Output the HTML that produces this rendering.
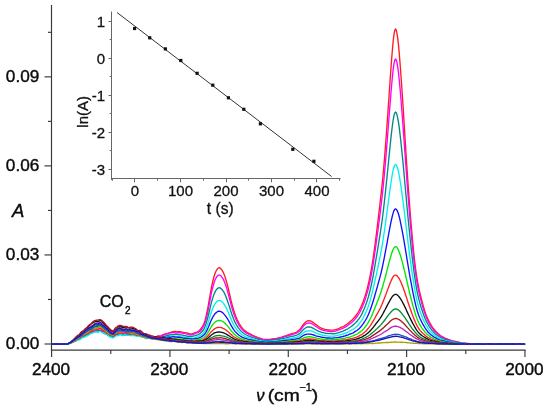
<!DOCTYPE html>
<html><head><meta charset="utf-8"><title>IR spectra</title>
<style>html,body{margin:0;padding:0;background:#fff}svg{display:block}</style></head>
<body><svg width="550" height="412" viewBox="0 0 550 412">
<rect width="550" height="412" fill="#fff"/>
<g fill="none" stroke-width="1.35" stroke-linejoin="round" stroke-linecap="round">
<path d="M52.00,344.02 L52.75,344.00 L53.50,344.11 L54.25,344.02 L55.00,344.05 L55.75,344.11 L56.50,344.10 L57.25,344.12 L58.00,343.91 L58.75,343.89 L59.50,343.87 L60.25,344.02 L61.00,344.05 L61.75,344.08 L62.50,344.08 L63.25,344.04 L64.00,344.01 L64.75,343.95 L65.50,343.98 L66.25,343.96 L67.00,343.87 L67.75,343.72 L68.50,343.60 L69.25,343.46 L70.00,343.19 L70.75,342.69 L71.50,342.35 L72.25,342.08 L73.00,341.82 L73.75,341.53 L74.50,341.15 L75.25,340.77 L76.00,340.15 L76.75,339.66 L77.50,339.25 L78.25,339.46 L79.00,338.88 L79.75,338.82 L80.50,338.19 L81.25,337.94 L82.00,337.20 L82.75,336.54 L83.50,336.41 L84.25,336.15 L85.00,335.67 L85.75,334.76 L86.50,334.23 L87.25,333.80 L88.00,333.50 L88.75,333.33 L89.50,333.21 L90.25,332.97 L91.00,332.47 L91.75,332.00 L92.50,331.97 L93.25,331.74 L94.00,331.88 L94.75,331.28 L95.50,331.06 L96.25,330.83 L97.00,330.93 L97.75,331.16 L98.50,330.39 L99.25,330.51 L100.00,330.34 L100.75,330.51 L101.50,330.24 L102.25,330.99 L103.00,331.71 L103.75,332.32 L104.50,332.47 L105.25,332.53 L106.00,333.33 L106.75,333.61 L107.50,334.62 L108.25,334.56 L109.00,335.11 L109.75,335.40 L110.50,336.43 L111.25,336.45 L112.00,336.55 L112.75,336.17 L113.50,336.00 L114.25,335.57 L115.00,335.39 L115.75,335.27 L116.50,335.03 L117.25,334.31 L118.00,334.21 L118.75,333.97 L119.50,334.22 L120.25,333.89 L121.00,333.76 L121.75,334.09 L122.50,334.58 L123.25,334.70 L124.00,334.12 L124.75,333.51 L125.50,333.38 L126.25,333.66 L127.00,333.85 L127.75,334.10 L128.50,333.99 L129.25,334.20 L130.00,334.07 L130.75,334.21 L131.50,333.87 L132.25,333.80 L133.00,333.28 L133.75,333.18 L134.50,333.07 L135.25,334.17 L136.00,334.70 L136.75,335.26 L137.50,334.86 L138.25,335.40 L139.00,335.18 L139.75,335.22 L140.50,335.18 L141.25,335.80 L142.00,336.37 L142.75,336.28 L143.50,336.11 L144.25,335.66 L145.00,335.83 L145.75,335.92 L146.50,336.40 L147.25,336.11 L148.00,336.19 L148.75,336.03 L149.50,336.59 L150.25,336.78 L151.00,337.16 L151.75,336.72 L152.50,336.56 L153.25,336.45 L154.00,336.72 L154.75,336.70 L155.50,336.69 L156.25,336.69 L157.00,336.60 L157.75,336.04 L158.50,335.83 L159.25,335.83 L160.00,336.15 L160.75,336.08 L161.50,335.68 L162.25,335.15 L163.00,334.69 L163.75,334.43 L164.50,334.22 L165.25,333.92 L166.00,333.87 L166.75,333.66 L167.50,333.40 L168.25,333.06 L169.00,332.81 L169.75,332.68 L170.50,332.42 L171.25,332.09 L172.00,331.88 L172.75,331.72 L173.50,331.64 L174.25,331.49 L175.00,331.30 L175.75,331.58 L176.50,331.60 L177.25,331.84 L178.00,331.71 L178.75,331.78 L179.50,331.72 L180.25,331.73 L181.00,331.88 L181.75,331.95 L182.50,332.18 L183.25,332.34 L184.00,332.56 L184.75,332.73 L185.50,332.72 L186.25,332.87 L187.00,332.84 L187.75,333.16 L188.50,333.42 L189.25,333.71 L190.00,333.80 L190.75,333.89 L191.50,333.87 L192.25,333.82 L193.00,333.50 L193.75,333.30 L194.50,332.92 L195.25,332.71 L196.00,332.41 L196.75,332.19 L197.50,331.88 L198.25,331.40 L199.00,330.78 L199.75,330.05 L200.50,329.22 L201.25,328.23 L202.00,327.12 L202.75,325.88 L203.50,324.50 L204.25,322.78 L205.00,320.47 L205.75,317.76 L206.50,314.48 L207.25,311.01 L208.00,307.04 L208.75,302.86 L209.50,298.42 L210.25,293.99 L211.00,289.82 L211.75,285.99 L212.50,282.58 L213.25,279.45 L214.00,276.65 L214.75,274.25 L215.50,272.25 L216.25,270.74 L217.00,269.47 L217.75,268.58 L218.50,267.87 L219.25,267.65 L220.00,267.92 L220.75,268.55 L221.50,269.48 L222.25,270.54 L223.00,271.84 L223.75,273.46 L224.50,275.41 L225.25,277.65 L226.00,280.07 L226.75,282.62 L227.50,285.50 L228.25,288.51 L229.00,291.66 L229.75,294.88 L230.50,298.14 L231.25,301.30 L232.00,304.27 L232.75,306.98 L233.50,309.60 L234.25,312.04 L235.00,314.35 L235.75,316.36 L236.50,318.04 L237.25,319.70 L238.00,321.26 L238.75,322.78 L239.50,324.11 L240.25,325.24 L241.00,326.40 L241.75,327.38 L242.50,328.37 L243.25,329.14 L244.00,329.94 L244.75,330.52 L245.50,331.13 L246.25,331.60 L247.00,332.21 L247.75,332.70 L248.50,333.13 L249.25,333.49 L250.00,333.85 L250.75,334.23 L251.50,334.63 L252.25,335.03 L253.00,335.40 L253.75,335.74 L254.50,336.07 L255.25,336.41 L256.00,336.70 L256.75,337.02 L257.50,337.39 L258.25,337.73 L259.00,337.95 L259.75,338.20 L260.50,338.46 L261.25,338.76 L262.00,338.90 L262.75,339.16 L263.50,339.30 L264.25,339.43 L265.00,339.48 L265.75,339.48 L266.50,339.52 L267.25,339.49 L268.00,339.50 L268.75,339.53 L269.50,339.46 L270.25,339.31 L271.00,339.19 L271.75,338.99 L272.50,338.95 L273.25,338.76 L274.00,338.72 L274.75,338.68 L275.50,338.62 L276.25,338.47 L277.00,338.28 L277.75,338.14 L278.50,337.96 L279.25,337.74 L280.00,337.56 L280.75,337.39 L281.50,337.11 L282.25,336.84 L283.00,336.55 L283.75,336.30 L284.50,336.05 L285.25,335.90 L286.00,335.76 L286.75,335.51 L287.50,335.16 L288.25,334.83 L289.00,334.52 L289.75,334.30 L290.50,334.02 L291.25,333.80 L292.00,333.53 L292.75,333.36 L293.50,333.16 L294.25,332.93 L295.00,332.67 L295.75,332.37 L296.50,332.00 L297.25,331.58 L298.00,330.97 L298.75,330.39 L299.50,329.69 L300.25,328.89 L301.00,327.89 L301.75,326.81 L302.50,325.70 L303.25,324.67 L304.00,323.77 L304.75,322.95 L305.50,322.27 L306.25,321.56 L307.00,321.20 L307.75,320.92 L308.50,320.74 L309.25,320.74 L310.00,320.83 L310.75,321.12 L311.50,321.45 L312.25,321.91 L313.00,322.44 L313.75,322.93 L314.50,323.52 L315.25,324.09 L316.00,324.69 L316.75,325.13 L317.50,325.70 L318.25,326.27 L319.00,326.82 L319.75,327.28 L320.50,327.65 L321.25,328.04 L322.00,328.30 L322.75,328.61 L323.50,328.87 L324.25,329.25 L325.00,329.47 L325.75,329.58 L326.50,329.66 L327.25,329.78 L328.00,329.99 L328.75,330.01 L329.50,330.04 L330.25,330.09 L331.00,330.13 L331.75,330.16 L332.50,330.10 L333.25,330.14 L334.00,330.02 L334.75,329.90 L335.50,329.69 L336.25,329.52 L337.00,329.26 L337.75,328.92 L338.50,328.60 L339.25,328.24 L340.00,327.94 L340.75,327.56 L341.50,327.23 L342.25,326.91 L343.00,326.67 L343.75,326.29 L344.50,325.84 L345.25,325.30 L346.00,324.80 L346.75,324.32 L347.50,323.78 L348.25,323.25 L349.00,322.55 L349.75,321.88 L350.50,321.20 L351.25,320.63 L352.00,319.95 L352.75,319.15 L353.50,318.33 L354.25,317.57 L355.00,316.73 L355.75,315.79 L356.50,314.73 L357.25,313.68 L358.00,312.51 L358.75,311.24 L359.50,309.84 L360.25,308.42 L361.00,306.80 L361.75,305.14 L362.50,303.23 L363.25,301.43 L364.00,299.32 L364.75,297.10 L365.50,294.64 L366.25,292.10 L367.00,289.40 L367.75,286.46 L368.50,283.39 L369.25,280.07 L370.00,276.44 L370.75,272.50 L371.50,268.36 L372.25,263.97 L373.00,259.21 L373.75,253.97 L374.50,248.48 L375.25,242.81 L376.00,236.99 L376.75,231.03 L377.50,224.90 L378.25,218.64 L379.00,212.19 L379.75,205.73 L380.50,199.16 L381.25,192.56 L382.00,185.50 L382.75,178.13 L383.50,170.08 L384.25,161.44 L385.00,152.16 L385.75,142.41 L386.50,132.34 L387.25,121.87 L388.00,111.14 L388.75,100.18 L389.50,89.11 L390.25,78.23 L391.00,67.72 L391.75,57.80 L392.50,48.54 L393.25,40.54 L394.00,34.28 L394.75,30.35 L395.50,28.96 L396.25,30.06 L397.00,33.35 L397.75,38.41 L398.50,45.16 L399.25,53.37 L400.00,62.72 L400.75,72.80 L401.50,83.25 L402.25,94.11 L403.00,105.52 L403.75,117.40 L404.50,129.64 L405.25,141.61 L406.00,153.34 L406.75,164.75 L407.50,175.91 L408.25,186.78 L409.00,197.12 L409.75,207.16 L410.50,216.80 L411.25,225.93 L412.00,234.51 L412.75,242.66 L413.50,250.49 L414.25,257.78 L415.00,264.32 L415.75,270.12 L416.50,275.28 L417.25,279.90 L418.00,284.07 L418.75,287.86 L419.50,291.33 L420.25,294.48 L421.00,297.50 L421.75,300.41 L422.50,303.25 L423.25,305.96 L424.00,308.51 L424.75,310.97 L425.50,313.16 L426.25,315.19 L427.00,316.93 L427.75,318.70 L428.50,320.28 L429.25,321.83 L430.00,323.14 L430.75,324.43 L431.50,325.64 L432.25,326.80 L433.00,327.86 L433.75,328.82 L434.50,329.77 L435.25,330.64 L436.00,331.41 L436.75,332.22 L437.50,332.96 L438.25,333.72 L439.00,334.30 L439.75,334.92 L440.50,335.49 L441.25,336.02 L442.00,336.43 L442.75,336.84 L443.50,337.27 L444.25,337.71 L445.00,338.05 L445.75,338.32 L446.50,338.60 L447.25,338.92 L448.00,339.26 L448.75,339.59 L449.50,339.88 L450.25,340.16 L451.00,340.35 L451.75,340.56 L452.50,340.81 L453.25,340.98 L454.00,341.10 L454.75,341.25 L455.50,341.45 L456.25,341.67 L457.00,341.79 L457.75,342.02 L458.50,342.12 L459.25,342.32 L460.00,342.37 L460.75,342.58 L461.50,342.72 L462.25,342.92 L463.00,343.02 L463.75,343.16 L464.50,343.27 L465.25,343.41 L466.00,343.52 L466.75,343.52 L467.50,343.54 L468.25,343.53 L469.00,343.58 L469.75,343.69 L470.50,343.74 L471.25,343.76 L472.00,343.72 L472.75,343.83 L473.50,344.05 L474.25,344.15 L475.00,344.03 L475.75,343.92 L476.50,343.89 L477.25,343.91 L478.00,343.93 L478.75,343.92 L479.50,343.92 L480.25,343.86 L481.00,343.86 L481.75,343.92 L482.50,343.92 L483.25,343.96 L484.00,343.88 L484.75,343.80 L485.50,343.82 L486.25,343.96 L487.00,344.08 L487.75,344.04 L488.50,343.91 L489.25,343.86 L490.00,343.90 L490.75,343.98 L491.50,343.97 L492.25,343.99 L493.00,343.91 L493.75,343.98 L494.50,343.90 L495.25,343.92 L496.00,343.88 L496.75,343.88 L497.50,343.95 L498.25,343.97 L499.00,344.01 L499.75,343.96 L500.50,343.92 L501.25,343.93 L502.00,343.97 L502.75,344.05 L503.50,344.06 L504.25,344.00 L505.00,344.00 L505.75,343.95 L506.50,343.96 L507.25,343.94 L508.00,344.04 L508.75,344.05 L509.50,344.01 L510.25,344.03 L511.00,343.99 L511.75,343.95 L512.50,343.87 L513.25,343.90 L514.00,343.87 L514.75,343.83 L515.50,343.89 L516.25,343.99 L517.00,344.04 L517.75,344.01 L518.50,344.11 L519.25,344.07 L520.00,344.09 L520.75,343.99 L521.50,344.02 L522.25,343.96 L523.00,343.98 L523.75,344.01 L524.50,344.04" stroke="#ff1a22"/>
<path d="M52.00,343.92 L52.75,343.94 L53.50,343.90 L54.25,343.95 L55.00,343.96 L55.75,343.95 L56.50,343.99 L57.25,343.93 L58.00,344.01 L58.75,343.96 L59.50,344.05 L60.25,344.06 L61.00,344.04 L61.75,343.98 L62.50,343.95 L63.25,344.01 L64.00,344.00 L64.75,344.06 L65.50,344.08 L66.25,344.10 L67.00,344.01 L67.75,343.88 L68.50,343.73 L69.25,343.47 L70.00,343.15 L70.75,342.69 L71.50,342.23 L72.25,341.72 L73.00,341.49 L73.75,341.25 L74.50,341.17 L75.25,340.82 L76.00,340.64 L76.75,340.10 L77.50,339.50 L78.25,338.38 L79.00,337.61 L79.75,337.48 L80.50,337.29 L81.25,337.23 L82.00,336.45 L82.75,336.14 L83.50,335.37 L84.25,334.57 L85.00,333.93 L85.75,333.21 L86.50,333.29 L87.25,333.14 L88.00,332.96 L88.75,332.25 L89.50,331.92 L90.25,331.81 L91.00,332.10 L91.75,331.67 L92.50,331.17 L93.25,330.57 L94.00,330.29 L94.75,330.44 L95.50,330.17 L96.25,329.84 L97.00,329.39 L97.75,329.34 L98.50,329.48 L99.25,328.89 L100.00,328.79 L100.75,328.73 L101.50,329.36 L102.25,330.32 L103.00,330.81 L103.75,331.46 L104.50,331.44 L105.25,331.67 L106.00,332.07 L106.75,333.04 L107.50,333.88 L108.25,334.45 L109.00,334.54 L109.75,335.21 L110.50,336.00 L111.25,336.32 L112.00,336.34 L112.75,336.14 L113.50,336.30 L114.25,335.46 L115.00,335.55 L115.75,334.71 L116.50,334.14 L117.25,333.25 L118.00,332.87 L118.75,333.34 L119.50,332.92 L120.25,333.26 L121.00,333.09 L121.75,333.49 L122.50,333.55 L123.25,333.42 L124.00,333.67 L124.75,333.50 L125.50,333.60 L126.25,333.36 L127.00,333.22 L127.75,333.21 L128.50,333.32 L129.25,333.53 L130.00,333.78 L130.75,333.74 L131.50,333.41 L132.25,333.30 L133.00,333.18 L133.75,333.48 L134.50,333.78 L135.25,333.87 L136.00,334.23 L136.75,334.20 L137.50,334.22 L138.25,334.40 L139.00,334.58 L139.75,335.39 L140.50,335.45 L141.25,335.95 L142.00,335.91 L142.75,336.13 L143.50,335.98 L144.25,335.74 L145.00,335.71 L145.75,335.75 L146.50,336.20 L147.25,336.41 L148.00,336.77 L148.75,337.15 L149.50,337.14 L150.25,336.75 L151.00,336.39 L151.75,336.52 L152.50,336.52 L153.25,336.66 L154.00,336.65 L154.75,337.06 L155.50,337.10 L156.25,336.98 L157.00,336.44 L157.75,336.25 L158.50,336.27 L159.25,336.52 L160.00,336.37 L160.75,336.27 L161.50,335.96 L162.25,335.61 L163.00,335.11 L163.75,334.80 L164.50,334.79 L165.25,334.79 L166.00,334.47 L166.75,333.96 L167.50,333.72 L168.25,333.62 L169.00,333.53 L169.75,333.11 L170.50,332.93 L171.25,332.82 L172.00,332.71 L172.75,332.61 L173.50,332.49 L174.25,332.65 L175.00,332.94 L175.75,333.01 L176.50,333.02 L177.25,332.78 L178.00,332.71 L178.75,332.62 L179.50,332.75 L180.25,332.89 L181.00,332.91 L181.75,333.04 L182.50,333.09 L183.25,333.27 L184.00,333.34 L184.75,333.45 L185.50,333.70 L186.25,333.81 L187.00,334.13 L187.75,334.28 L188.50,334.57 L189.25,334.62 L190.00,334.76 L190.75,334.76 L191.50,334.86 L192.25,334.66 L193.00,334.39 L193.75,334.08 L194.50,333.76 L195.25,333.54 L196.00,333.14 L196.75,332.96 L197.50,332.78 L198.25,332.44 L199.00,331.98 L199.75,331.36 L200.50,330.74 L201.25,329.95 L202.00,328.91 L202.75,327.79 L203.50,326.31 L204.25,324.63 L205.00,322.60 L205.75,320.24 L206.50,317.42 L207.25,314.26 L208.00,310.72 L208.75,306.89 L209.50,302.79 L210.25,298.77 L211.00,294.96 L211.75,291.43 L212.50,288.25 L213.25,285.46 L214.00,282.95 L214.75,280.84 L215.50,279.01 L216.25,277.65 L217.00,276.47 L217.75,275.69 L218.50,275.17 L219.25,275.05 L220.00,275.20 L220.75,275.75 L221.50,276.56 L222.25,277.57 L223.00,278.70 L223.75,280.16 L224.50,281.90 L225.25,283.92 L226.00,286.03 L226.75,288.39 L227.50,291.00 L228.25,293.90 L229.00,296.79 L229.75,299.60 L230.50,302.41 L231.25,305.21 L232.00,307.98 L232.75,310.59 L233.50,312.97 L234.25,315.14 L235.00,317.06 L235.75,318.95 L236.50,320.59 L237.25,322.16 L238.00,323.49 L238.75,324.83 L239.50,326.04 L240.25,327.20 L241.00,328.13 L241.75,329.02 L242.50,329.85 L243.25,330.68 L244.00,331.38 L244.75,331.87 L245.50,332.42 L246.25,332.89 L247.00,333.37 L247.75,333.68 L248.50,334.06 L249.25,334.45 L250.00,334.85 L250.75,335.17 L251.50,335.55 L252.25,335.85 L253.00,336.20 L253.75,336.44 L254.50,336.85 L255.25,337.12 L256.00,337.52 L256.75,337.84 L257.50,338.15 L258.25,338.42 L259.00,338.60 L259.75,338.90 L260.50,339.01 L261.25,339.22 L262.00,339.40 L262.75,339.62 L263.50,339.73 L264.25,339.84 L265.00,339.91 L265.75,339.90 L266.50,339.85 L267.25,339.85 L268.00,339.92 L268.75,339.88 L269.50,339.88 L270.25,339.90 L271.00,339.86 L271.75,339.75 L272.50,339.46 L273.25,339.32 L274.00,339.21 L274.75,339.22 L275.50,339.09 L276.25,338.96 L277.00,338.80 L277.75,338.67 L278.50,338.47 L279.25,338.27 L280.00,338.08 L280.75,337.84 L281.50,337.58 L282.25,337.45 L283.00,337.20 L283.75,337.06 L284.50,336.73 L285.25,336.65 L286.00,336.42 L286.75,336.23 L287.50,335.95 L288.25,335.68 L289.00,335.42 L289.75,335.21 L290.50,335.00 L291.25,334.75 L292.00,334.45 L292.75,334.24 L293.50,334.07 L294.25,333.89 L295.00,333.69 L295.75,333.47 L296.50,333.11 L297.25,332.74 L298.00,332.28 L298.75,331.86 L299.50,331.13 L300.25,330.26 L301.00,329.32 L301.75,328.38 L302.50,327.48 L303.25,326.43 L304.00,325.51 L304.75,324.76 L305.50,324.18 L306.25,323.72 L307.00,323.29 L307.75,323.05 L308.50,322.93 L309.25,322.96 L310.00,323.07 L310.75,323.31 L311.50,323.67 L312.25,324.01 L313.00,324.46 L313.75,324.91 L314.50,325.53 L315.25,326.03 L316.00,326.50 L316.75,326.97 L317.50,327.45 L318.25,328.01 L319.00,328.47 L319.75,328.94 L320.50,329.26 L321.25,329.56 L322.00,329.91 L322.75,330.04 L323.50,330.32 L324.25,330.43 L325.00,330.71 L325.75,330.80 L326.50,330.94 L327.25,331.21 L328.00,331.37 L328.75,331.42 L329.50,331.40 L330.25,331.44 L331.00,331.61 L331.75,331.55 L332.50,331.51 L333.25,331.43 L334.00,331.43 L334.75,331.33 L335.50,331.16 L336.25,330.94 L337.00,330.66 L337.75,330.31 L338.50,329.97 L339.25,329.70 L340.00,329.46 L340.75,329.20 L341.50,328.92 L342.25,328.63 L343.00,328.26 L343.75,327.89 L344.50,327.45 L345.25,327.05 L346.00,326.63 L346.75,326.12 L347.50,325.61 L348.25,325.02 L349.00,324.45 L349.75,323.91 L350.50,323.38 L351.25,322.79 L352.00,322.15 L352.75,321.37 L353.50,320.65 L354.25,319.91 L355.00,319.16 L355.75,318.26 L356.50,317.27 L357.25,316.24 L358.00,315.17 L358.75,314.01 L359.50,312.72 L360.25,311.31 L361.00,309.82 L361.75,308.23 L362.50,306.60 L363.25,304.83 L364.00,302.94 L364.75,300.79 L365.50,298.42 L366.25,295.92 L367.00,293.39 L367.75,290.78 L368.50,287.85 L369.25,284.63 L370.00,281.23 L370.75,277.59 L371.50,273.72 L372.25,269.44 L373.00,264.94 L373.75,260.04 L374.50,254.98 L375.25,249.80 L376.00,244.52 L376.75,239.13 L377.50,233.50 L378.25,227.85 L379.00,222.11 L379.75,216.29 L380.50,210.30 L381.25,204.11 L382.00,197.69 L382.75,190.95 L383.50,183.67 L384.25,175.86 L385.00,167.43 L385.75,158.73 L386.50,149.65 L387.25,140.34 L388.00,130.76 L388.75,121.05 L389.50,111.27 L390.25,101.67 L391.00,92.43 L391.75,83.73 L392.50,75.75 L393.25,68.91 L394.00,63.64 L394.75,60.19 L395.50,58.98 L396.25,59.93 L397.00,62.77 L397.75,67.17 L398.50,72.92 L399.25,79.98 L400.00,88.02 L400.75,96.79 L401.50,106.02 L402.25,115.59 L403.00,125.63 L403.75,136.08 L404.50,146.69 L405.25,157.27 L406.00,167.79 L406.75,178.15 L407.50,188.20 L408.25,197.92 L409.00,207.25 L409.75,216.30 L410.50,225.02 L411.25,233.50 L412.00,241.42 L412.75,248.85 L413.50,255.96 L414.25,262.69 L415.00,268.98 L415.75,274.51 L416.50,279.48 L417.25,283.95 L418.00,288.00 L418.75,291.60 L419.50,294.83 L420.25,297.79 L421.00,300.61 L421.75,303.32 L422.50,306.00 L423.25,308.60 L424.00,311.02 L424.75,313.22 L425.50,315.23 L426.25,317.20 L427.00,318.99 L427.75,320.68 L428.50,322.13 L429.25,323.56 L430.00,324.80 L430.75,326.00 L431.50,327.06 L432.25,328.04 L433.00,329.06 L433.75,330.07 L434.50,330.96 L435.25,331.69 L436.00,332.33 L436.75,333.09 L437.50,333.81 L438.25,334.49 L439.00,335.14 L439.75,335.72 L440.50,336.21 L441.25,336.65 L442.00,336.99 L442.75,337.48 L443.50,337.85 L444.25,338.24 L445.00,338.54 L445.75,338.88 L446.50,339.28 L447.25,339.57 L448.00,339.74 L448.75,339.92 L449.50,340.12 L450.25,340.43 L451.00,340.63 L451.75,340.85 L452.50,341.06 L453.25,341.30 L454.00,341.47 L454.75,341.55 L455.50,341.69 L456.25,341.83 L457.00,341.95 L457.75,342.12 L458.50,342.33 L459.25,342.51 L460.00,342.59 L460.75,342.68 L461.50,342.85 L462.25,343.01 L463.00,343.10 L463.75,343.23 L464.50,343.28 L465.25,343.43 L466.00,343.52 L466.75,343.60 L467.50,343.63 L468.25,343.62 L469.00,343.67 L469.75,343.72 L470.50,343.78 L471.25,343.84 L472.00,343.91 L472.75,343.99 L473.50,344.02 L474.25,343.99 L475.00,343.95 L475.75,343.89 L476.50,343.85 L477.25,343.78 L478.00,343.77 L478.75,343.81 L479.50,343.81 L480.25,343.82 L481.00,343.83 L481.75,343.89 L482.50,343.90 L483.25,343.87 L484.00,343.84 L484.75,343.87 L485.50,343.86 L486.25,343.91 L487.00,343.92 L487.75,343.96 L488.50,343.92 L489.25,344.01 L490.00,343.98 L490.75,343.96 L491.50,343.87 L492.25,343.89 L493.00,343.92 L493.75,343.98 L494.50,344.01 L495.25,344.05 L496.00,344.02 L496.75,343.95 L497.50,343.98 L498.25,343.93 L499.00,344.03 L499.75,344.03 L500.50,344.07 L501.25,343.97 L502.00,343.96 L502.75,344.04 L503.50,344.08 L504.25,344.05 L505.00,344.01 L505.75,344.07 L506.50,344.10 L507.25,344.05 L508.00,343.98 L508.75,344.02 L509.50,343.93 L510.25,343.96 L511.00,343.91 L511.75,343.98 L512.50,343.97 L513.25,343.87 L514.00,343.85 L514.75,343.87 L515.50,343.98 L516.25,344.04 L517.00,344.04 L517.75,344.00 L518.50,344.01 L519.25,343.93 L520.00,343.96 L520.75,343.94 L521.50,343.97 L522.25,344.04 L523.00,344.07 L523.75,344.09 L524.50,344.01" stroke="#ff00ff"/>
<path d="M52.00,344.00 L52.75,343.98 L53.50,344.00 L54.25,344.01 L55.00,344.08 L55.75,344.13 L56.50,344.07 L57.25,344.06 L58.00,344.01 L58.75,344.01 L59.50,343.93 L60.25,343.92 L61.00,344.00 L61.75,344.04 L62.50,344.06 L63.25,344.01 L64.00,344.01 L64.75,343.96 L65.50,343.95 L66.25,343.93 L67.00,343.79 L67.75,343.64 L68.50,343.61 L69.25,343.45 L70.00,343.35 L70.75,343.06 L71.50,342.78 L72.25,342.46 L73.00,342.05 L73.75,341.67 L74.50,341.31 L75.25,341.02 L76.00,340.75 L76.75,340.08 L77.50,339.43 L78.25,339.36 L79.00,339.35 L79.75,339.13 L80.50,338.04 L81.25,337.35 L82.00,336.77 L82.75,336.54 L83.50,336.41 L84.25,336.12 L85.00,335.89 L85.75,335.67 L86.50,335.41 L87.25,335.05 L88.00,334.73 L88.75,334.22 L89.50,333.85 L90.25,333.09 L91.00,333.11 L91.75,332.94 L92.50,332.56 L93.25,331.95 L94.00,331.83 L94.75,331.81 L95.50,331.53 L96.25,331.34 L97.00,331.28 L97.75,330.97 L98.50,330.71 L99.25,330.52 L100.00,331.11 L100.75,331.39 L101.50,331.42 L102.25,331.70 L103.00,332.25 L103.75,333.15 L104.50,333.56 L105.25,333.61 L106.00,334.03 L106.75,334.33 L107.50,335.02 L108.25,335.23 L109.00,335.71 L109.75,335.89 L110.50,336.40 L111.25,336.90 L112.00,337.23 L112.75,337.53 L113.50,337.19 L114.25,336.72 L115.00,335.80 L115.75,335.36 L116.50,335.07 L117.25,334.97 L118.00,334.90 L118.75,334.73 L119.50,334.58 L120.25,334.40 L121.00,334.68 L121.75,334.96 L122.50,335.55 L123.25,335.17 L124.00,335.15 L124.75,334.59 L125.50,334.91 L126.25,334.79 L127.00,334.84 L127.75,334.57 L128.50,334.95 L129.25,334.87 L130.00,335.07 L130.75,334.91 L131.50,334.94 L132.25,334.93 L133.00,334.87 L133.75,335.22 L134.50,335.27 L135.25,335.36 L136.00,335.39 L136.75,335.77 L137.50,336.02 L138.25,336.04 L139.00,335.73 L139.75,335.79 L140.50,335.74 L141.25,336.19 L142.00,336.59 L142.75,336.94 L143.50,337.31 L144.25,337.14 L145.00,337.18 L145.75,337.17 L146.50,337.37 L147.25,337.20 L148.00,337.19 L148.75,337.20 L149.50,337.57 L150.25,337.68 L151.00,337.77 L151.75,337.86 L152.50,338.24 L153.25,337.99 L154.00,338.20 L154.75,337.97 L155.50,338.07 L156.25,337.87 L157.00,337.85 L157.75,337.83 L158.50,337.92 L159.25,337.75 L160.00,337.86 L160.75,337.67 L161.50,337.35 L162.25,336.96 L163.00,336.62 L163.75,336.36 L164.50,336.18 L165.25,336.10 L166.00,336.05 L166.75,335.68 L167.50,335.42 L168.25,335.19 L169.00,335.21 L169.75,335.03 L170.50,334.88 L171.25,334.74 L172.00,334.67 L172.75,334.70 L173.50,334.73 L174.25,334.64 L175.00,334.50 L175.75,334.35 L176.50,334.42 L177.25,334.61 L178.00,334.69 L178.75,334.71 L179.50,334.83 L180.25,334.88 L181.00,334.96 L181.75,334.80 L182.50,335.05 L183.25,335.31 L184.00,335.49 L184.75,335.66 L185.50,335.74 L186.25,336.00 L187.00,336.07 L187.75,336.27 L188.50,336.33 L189.25,336.32 L190.00,336.27 L190.75,336.30 L191.50,336.39 L192.25,336.26 L193.00,336.13 L193.75,335.86 L194.50,335.81 L195.25,335.58 L196.00,335.47 L196.75,335.14 L197.50,334.90 L198.25,334.60 L199.00,334.22 L199.75,333.69 L200.50,333.02 L201.25,332.30 L202.00,331.59 L202.75,330.72 L203.50,329.72 L204.25,328.34 L205.00,326.58 L205.75,324.47 L206.50,322.14 L207.25,319.66 L208.00,316.84 L208.75,313.75 L209.50,310.49 L210.25,307.29 L211.00,304.21 L211.75,301.37 L212.50,298.71 L213.25,296.41 L214.00,294.35 L214.75,292.65 L215.50,291.11 L216.25,289.94 L217.00,288.97 L217.75,288.34 L218.50,287.82 L219.25,287.70 L220.00,287.91 L220.75,288.39 L221.50,289.05 L222.25,289.80 L223.00,290.80 L223.75,291.90 L224.50,293.36 L225.25,294.96 L226.00,296.86 L226.75,298.79 L227.50,300.90 L228.25,303.11 L229.00,305.41 L229.75,307.80 L230.50,310.21 L231.25,312.51 L232.00,314.70 L232.75,316.76 L233.50,318.69 L234.25,320.44 L235.00,322.14 L235.75,323.67 L236.50,325.01 L237.25,326.11 L238.00,327.27 L238.75,328.31 L239.50,329.35 L240.25,330.24 L241.00,331.12 L241.75,331.83 L242.50,332.46 L243.25,333.03 L244.00,333.56 L244.75,334.01 L245.50,334.50 L246.25,334.90 L247.00,335.25 L247.75,335.56 L248.50,335.85 L249.25,336.25 L250.00,336.58 L250.75,336.92 L251.50,337.18 L252.25,337.46 L253.00,337.71 L253.75,337.94 L254.50,338.12 L255.25,338.36 L256.00,338.60 L256.75,338.86 L257.50,339.14 L258.25,339.46 L259.00,339.65 L259.75,339.74 L260.50,339.85 L261.25,340.05 L262.00,340.29 L262.75,340.48 L263.50,340.60 L264.25,340.72 L265.00,340.70 L265.75,340.77 L266.50,340.71 L267.25,340.66 L268.00,340.53 L268.75,340.51 L269.50,340.49 L270.25,340.54 L271.00,340.48 L271.75,340.43 L272.50,340.26 L273.25,340.17 L274.00,340.08 L274.75,340.04 L275.50,339.98 L276.25,339.90 L277.00,339.73 L277.75,339.56 L278.50,339.41 L279.25,339.29 L280.00,339.17 L280.75,338.99 L281.50,338.80 L282.25,338.55 L283.00,338.38 L283.75,338.29 L284.50,338.20 L285.25,338.11 L286.00,337.95 L286.75,337.77 L287.50,337.50 L288.25,337.21 L289.00,337.00 L289.75,336.80 L290.50,336.70 L291.25,336.49 L292.00,336.38 L292.75,336.21 L293.50,336.03 L294.25,335.81 L295.00,335.57 L295.75,335.39 L296.50,335.19 L297.25,334.90 L298.00,334.57 L298.75,334.11 L299.50,333.62 L300.25,332.93 L301.00,332.17 L301.75,331.27 L302.50,330.43 L303.25,329.65 L304.00,329.00 L304.75,328.50 L305.50,328.01 L306.25,327.54 L307.00,327.09 L307.75,326.97 L308.50,326.93 L309.25,326.99 L310.00,327.04 L310.75,327.21 L311.50,327.48 L312.25,327.78 L313.00,328.15 L313.75,328.60 L314.50,329.03 L315.25,329.50 L316.00,329.83 L316.75,330.28 L317.50,330.64 L318.25,331.02 L319.00,331.32 L319.75,331.61 L320.50,331.98 L321.25,332.23 L322.00,332.46 L322.75,332.55 L323.50,332.72 L324.25,332.87 L325.00,333.11 L325.75,333.27 L326.50,333.38 L327.25,333.44 L328.00,333.46 L328.75,333.55 L329.50,333.54 L330.25,333.54 L331.00,333.63 L331.75,333.67 L332.50,333.75 L333.25,333.69 L334.00,333.71 L334.75,333.60 L335.50,333.51 L336.25,333.34 L337.00,333.18 L337.75,332.90 L338.50,332.60 L339.25,332.31 L340.00,332.08 L340.75,331.90 L341.50,331.74 L342.25,331.47 L343.00,331.16 L343.75,330.77 L344.50,330.41 L345.25,330.07 L346.00,329.71 L346.75,329.45 L347.50,328.99 L348.25,328.52 L349.00,327.98 L349.75,327.49 L350.50,327.02 L351.25,326.49 L352.00,325.89 L352.75,325.26 L353.50,324.62 L354.25,324.04 L355.00,323.37 L355.75,322.67 L356.50,321.81 L357.25,320.95 L358.00,319.96 L358.75,319.01 L359.50,317.89 L360.25,316.82 L361.00,315.61 L361.75,314.17 L362.50,312.54 L363.25,310.88 L364.00,309.23 L364.75,307.43 L365.50,305.52 L366.25,303.38 L367.00,301.23 L367.75,298.84 L368.50,296.46 L369.25,293.61 L370.00,290.64 L370.75,287.33 L371.50,284.06 L372.25,280.40 L373.00,276.54 L373.75,272.36 L374.50,268.05 L375.25,263.65 L376.00,259.22 L376.75,254.85 L377.50,250.34 L378.25,245.71 L379.00,241.00 L379.75,236.30 L380.50,231.52 L381.25,226.56 L382.00,221.23 L382.75,215.47 L383.50,209.37 L384.25,202.90 L385.00,196.13 L385.75,189.11 L386.50,181.89 L387.25,174.60 L388.00,167.03 L388.75,159.46 L389.50,151.86 L390.25,144.48 L391.00,137.36 L391.75,130.68 L392.50,124.71 L393.25,119.49 L394.00,115.52 L394.75,112.93 L395.50,112.08 L396.25,112.75 L397.00,114.84 L397.75,118.10 L398.50,122.46 L399.25,127.70 L400.00,133.83 L400.75,140.49 L401.50,147.58 L402.25,154.94 L403.00,162.58 L403.75,170.58 L404.50,178.88 L405.25,187.30 L406.00,195.65 L406.75,203.81 L407.50,211.86 L408.25,219.66 L409.00,227.32 L409.75,234.70 L410.50,241.97 L411.25,248.88 L412.00,255.56 L412.75,261.88 L413.50,267.94 L414.25,273.60 L415.00,278.94 L415.75,283.92 L416.50,288.40 L417.25,292.31 L418.00,295.71 L418.75,298.93 L419.50,301.90 L420.25,304.57 L421.00,306.99 L421.75,309.29 L422.50,311.55 L423.25,313.72 L424.00,315.75 L424.75,317.66 L425.50,319.47 L426.25,321.13 L427.00,322.63 L427.75,323.98 L428.50,325.27 L429.25,326.56 L430.00,327.64 L430.75,328.75 L431.50,329.62 L432.25,330.59 L433.00,331.42 L433.75,332.31 L434.50,333.05 L435.25,333.75 L436.00,334.41 L436.75,335.03 L437.50,335.58 L438.25,336.05 L439.00,336.55 L439.75,336.98 L440.50,337.48 L441.25,337.91 L442.00,338.38 L442.75,338.66 L443.50,339.00 L444.25,339.31 L445.00,339.56 L445.75,339.69 L446.50,339.84 L447.25,340.19 L448.00,340.48 L448.75,340.72 L449.50,340.85 L450.25,341.11 L451.00,341.34 L451.75,341.58 L452.50,341.73 L453.25,341.78 L454.00,341.83 L454.75,341.97 L455.50,342.25 L456.25,342.38 L457.00,342.47 L457.75,342.50 L458.50,342.66 L459.25,342.76 L460.00,342.88 L460.75,343.01 L461.50,343.19 L462.25,343.35 L463.00,343.44 L463.75,343.46 L464.50,343.49 L465.25,343.53 L466.00,343.56 L466.75,343.64 L467.50,343.62 L468.25,343.61 L469.00,343.59 L469.75,343.68 L470.50,343.74 L471.25,343.76 L472.00,343.79 L472.75,343.86 L473.50,343.94 L474.25,344.00 L475.00,343.98 L475.75,343.90 L476.50,343.90 L477.25,343.93 L478.00,343.97 L478.75,343.95 L479.50,343.98 L480.25,344.01 L481.00,344.07 L481.75,344.05 L482.50,344.05 L483.25,343.88 L484.00,343.85 L484.75,343.85 L485.50,343.94 L486.25,343.91 L487.00,343.83 L487.75,343.83 L488.50,343.90 L489.25,344.02 L490.00,344.05 L490.75,344.05 L491.50,344.02 L492.25,343.94 L493.00,344.01 L493.75,343.99 L494.50,344.04 L495.25,343.95 L496.00,343.88 L496.75,343.95 L497.50,344.00 L498.25,344.07 L499.00,344.01 L499.75,343.99 L500.50,344.03 L501.25,343.99 L502.00,344.02 L502.75,344.01 L503.50,344.00 L504.25,343.89 L505.00,343.83 L505.75,343.92 L506.50,344.03 L507.25,344.10 L508.00,344.11 L508.75,344.09 L509.50,344.01 L510.25,343.95 L511.00,343.97 L511.75,344.05 L512.50,344.11 L513.25,344.03 L514.00,344.08 L514.75,344.02 L515.50,344.13 L516.25,344.09 L517.00,344.16 L517.75,344.07 L518.50,344.03 L519.25,343.86 L520.00,343.94 L520.75,343.98 L521.50,344.06 L522.25,344.00 L523.00,343.97 L523.75,344.07 L524.50,344.09" stroke="#008888"/>
<path d="M52.00,343.92 L52.75,343.91 L53.50,343.99 L54.25,343.99 L55.00,344.03 L55.75,344.00 L56.50,344.03 L57.25,343.96 L58.00,343.98 L58.75,343.99 L59.50,343.99 L60.25,343.97 L61.00,343.95 L61.75,344.01 L62.50,343.98 L63.25,344.00 L64.00,343.98 L64.75,343.93 L65.50,343.89 L66.25,343.94 L67.00,344.01 L67.75,343.93 L68.50,343.83 L69.25,343.67 L70.00,343.51 L70.75,343.25 L71.50,342.79 L72.25,342.58 L73.00,342.02 L73.75,341.87 L74.50,341.34 L75.25,341.10 L76.00,340.59 L76.75,340.12 L77.50,340.01 L78.25,340.11 L79.00,339.96 L79.75,339.77 L80.50,339.07 L81.25,338.47 L82.00,337.81 L82.75,337.45 L83.50,337.52 L84.25,337.18 L85.00,336.74 L85.75,336.48 L86.50,336.01 L87.25,335.86 L88.00,335.17 L88.75,335.00 L89.50,334.26 L90.25,333.81 L91.00,333.42 L91.75,333.35 L92.50,333.16 L93.25,332.60 L94.00,332.06 L94.75,331.86 L95.50,331.93 L96.25,331.78 L97.00,332.12 L97.75,332.00 L98.50,332.27 L99.25,331.37 L100.00,331.44 L100.75,331.42 L101.50,332.27 L102.25,332.60 L103.00,332.83 L103.75,332.65 L104.50,333.33 L105.25,334.02 L106.00,334.00 L106.75,333.97 L107.50,334.29 L108.25,335.41 L109.00,336.58 L109.75,336.63 L110.50,337.04 L111.25,337.12 L112.00,337.51 L112.75,337.79 L113.50,337.45 L114.25,337.13 L115.00,336.49 L115.75,335.91 L116.50,335.61 L117.25,335.70 L118.00,335.70 L118.75,335.33 L119.50,334.69 L120.25,334.33 L121.00,334.55 L121.75,335.03 L122.50,335.24 L123.25,335.52 L124.00,335.02 L124.75,335.04 L125.50,334.69 L126.25,335.04 L127.00,335.30 L127.75,335.15 L128.50,335.35 L129.25,335.22 L130.00,335.57 L130.75,335.65 L131.50,335.45 L132.25,335.64 L133.00,335.38 L133.75,335.49 L134.50,335.72 L135.25,335.79 L136.00,335.91 L136.75,335.99 L137.50,336.27 L138.25,336.37 L139.00,335.91 L139.75,336.32 L140.50,336.40 L141.25,336.99 L142.00,336.87 L142.75,337.29 L143.50,337.46 L144.25,337.63 L145.00,337.96 L145.75,338.50 L146.50,338.69 L147.25,338.64 L148.00,338.30 L148.75,338.26 L149.50,338.29 L150.25,338.16 L151.00,338.33 L151.75,338.31 L152.50,338.40 L153.25,338.31 L154.00,338.35 L154.75,338.47 L155.50,338.66 L156.25,338.73 L157.00,338.71 L157.75,338.44 L158.50,338.38 L159.25,338.22 L160.00,337.99 L160.75,337.55 L161.50,337.56 L162.25,337.56 L163.00,337.63 L163.75,337.40 L164.50,337.29 L165.25,337.17 L166.00,337.04 L166.75,336.99 L167.50,336.96 L168.25,336.90 L169.00,336.75 L169.75,336.48 L170.50,336.38 L171.25,336.27 L172.00,336.18 L172.75,336.25 L173.50,336.32 L174.25,336.39 L175.00,336.31 L175.75,336.40 L176.50,336.40 L177.25,336.45 L178.00,336.51 L178.75,336.49 L179.50,336.65 L180.25,336.63 L181.00,336.91 L181.75,336.87 L182.50,336.91 L183.25,337.02 L184.00,337.13 L184.75,337.29 L185.50,337.40 L186.25,337.42 L187.00,337.50 L187.75,337.56 L188.50,337.79 L189.25,337.92 L190.00,337.98 L190.75,338.02 L191.50,337.93 L192.25,338.06 L193.00,338.06 L193.75,338.01 L194.50,337.79 L195.25,337.49 L196.00,337.34 L196.75,337.03 L197.50,336.82 L198.25,336.49 L199.00,336.18 L199.75,335.77 L200.50,335.36 L201.25,334.82 L202.00,334.24 L202.75,333.58 L203.50,332.86 L204.25,331.92 L205.00,330.57 L205.75,329.05 L206.50,327.18 L207.25,325.24 L208.00,322.92 L208.75,320.53 L209.50,317.98 L210.25,315.47 L211.00,313.19 L211.75,310.99 L212.50,309.02 L213.25,307.23 L214.00,305.61 L214.75,304.25 L215.50,303.03 L216.25,302.22 L217.00,301.49 L217.75,300.94 L218.50,300.56 L219.25,300.53 L220.00,300.66 L220.75,300.95 L221.50,301.39 L222.25,302.00 L223.00,302.83 L223.75,303.75 L224.50,304.87 L225.25,306.10 L226.00,307.38 L226.75,308.87 L227.50,310.52 L228.25,312.33 L229.00,314.20 L229.75,316.00 L230.50,317.83 L231.25,319.59 L232.00,321.32 L232.75,322.99 L233.50,324.46 L234.25,325.86 L235.00,327.01 L235.75,328.13 L236.50,329.14 L237.25,330.23 L238.00,331.06 L238.75,331.83 L239.50,332.51 L240.25,333.28 L241.00,333.96 L241.75,334.58 L242.50,335.03 L243.25,335.49 L244.00,335.94 L244.75,336.41 L245.50,336.85 L246.25,337.07 L247.00,337.29 L247.75,337.38 L248.50,337.58 L249.25,337.90 L250.00,338.19 L250.75,338.46 L251.50,338.62 L252.25,338.87 L253.00,339.08 L253.75,339.28 L254.50,339.40 L255.25,339.61 L256.00,339.83 L256.75,340.09 L257.50,340.30 L258.25,340.49 L259.00,340.65 L259.75,340.76 L260.50,340.85 L261.25,340.90 L262.00,340.99 L262.75,341.09 L263.50,341.28 L264.25,341.38 L265.00,341.41 L265.75,341.44 L266.50,341.52 L267.25,341.59 L268.00,341.56 L268.75,341.49 L269.50,341.45 L270.25,341.34 L271.00,341.33 L271.75,341.24 L272.50,341.21 L273.25,341.13 L274.00,341.02 L274.75,340.93 L275.50,340.80 L276.25,340.77 L277.00,340.66 L277.75,340.56 L278.50,340.45 L279.25,340.44 L280.00,340.32 L280.75,340.17 L281.50,339.97 L282.25,339.86 L283.00,339.76 L283.75,339.63 L284.50,339.55 L285.25,339.42 L286.00,339.27 L286.75,339.11 L287.50,339.00 L288.25,338.78 L289.00,338.57 L289.75,338.39 L290.50,338.32 L291.25,338.30 L292.00,338.20 L292.75,338.05 L293.50,337.76 L294.25,337.65 L295.00,337.53 L295.75,337.34 L296.50,337.05 L297.25,336.79 L298.00,336.56 L298.75,336.26 L299.50,335.88 L300.25,335.39 L301.00,334.77 L301.75,334.19 L302.50,333.53 L303.25,333.02 L304.00,332.44 L304.75,331.90 L305.50,331.47 L306.25,331.12 L307.00,331.04 L307.75,330.86 L308.50,330.81 L309.25,330.78 L310.00,330.82 L310.75,330.89 L311.50,331.05 L312.25,331.27 L313.00,331.64 L313.75,331.91 L314.50,332.27 L315.25,332.53 L316.00,332.94 L316.75,333.30 L317.50,333.60 L318.25,333.85 L319.00,334.11 L319.75,334.46 L320.50,334.72 L321.25,334.92 L322.00,335.04 L322.75,335.22 L323.50,335.40 L324.25,335.54 L325.00,335.68 L325.75,335.73 L326.50,335.84 L327.25,335.87 L328.00,336.06 L328.75,336.16 L329.50,336.24 L330.25,336.19 L331.00,336.20 L331.75,336.16 L332.50,336.14 L333.25,336.10 L334.00,336.15 L334.75,336.02 L335.50,335.90 L336.25,335.64 L337.00,335.55 L337.75,335.36 L338.50,335.18 L339.25,334.96 L340.00,334.74 L340.75,334.59 L341.50,334.32 L342.25,334.22 L343.00,334.01 L343.75,333.81 L344.50,333.49 L345.25,333.21 L346.00,333.02 L346.75,332.63 L347.50,332.34 L348.25,331.89 L349.00,331.55 L349.75,331.04 L350.50,330.60 L351.25,330.23 L352.00,329.87 L352.75,329.49 L353.50,329.06 L354.25,328.49 L355.00,327.95 L355.75,327.28 L356.50,326.70 L357.25,325.96 L358.00,325.20 L358.75,324.30 L359.50,323.42 L360.25,322.38 L361.00,321.37 L361.75,320.31 L362.50,319.11 L363.25,317.78 L364.00,316.31 L364.75,314.75 L365.50,313.16 L366.25,311.48 L367.00,309.79 L367.75,307.81 L368.50,305.66 L369.25,303.34 L370.00,300.91 L370.75,298.36 L371.50,295.63 L372.25,292.65 L373.00,289.46 L373.75,286.21 L374.50,282.88 L375.25,279.47 L376.00,276.08 L376.75,272.64 L377.50,269.12 L378.25,265.49 L379.00,261.90 L379.75,258.19 L380.50,254.46 L381.25,250.49 L382.00,246.31 L382.75,241.85 L383.50,237.05 L384.25,232.00 L385.00,226.74 L385.75,221.37 L386.50,215.87 L387.25,210.22 L388.00,204.51 L388.75,198.86 L389.50,193.31 L390.25,187.89 L391.00,182.73 L391.75,177.76 L392.50,173.39 L393.25,169.68 L394.00,166.96 L394.75,165.19 L395.50,164.56 L396.25,165.09 L397.00,166.51 L397.75,168.83 L398.50,171.92 L399.25,175.74 L400.00,180.02 L400.75,184.90 L401.50,190.07 L402.25,195.56 L403.00,201.09 L403.75,207.00 L404.50,213.08 L405.25,219.38 L406.00,225.68 L406.75,231.94 L407.50,238.02 L408.25,244.09 L409.00,249.94 L409.75,255.79 L410.50,261.41 L411.25,266.92 L412.00,272.15 L412.75,277.07 L413.50,281.71 L414.25,286.22 L415.00,290.59 L415.75,294.79 L416.50,298.53 L417.25,301.82 L418.00,304.80 L418.75,307.39 L419.50,309.79 L420.25,311.83 L421.00,313.94 L421.75,315.86 L422.50,317.72 L423.25,319.45 L424.00,321.13 L424.75,322.76 L425.50,324.17 L426.25,325.50 L427.00,326.67 L427.75,327.87 L428.50,329.03 L429.25,330.06 L430.00,330.96 L430.75,331.74 L431.50,332.50 L432.25,333.27 L433.00,333.94 L433.75,334.66 L434.50,335.23 L435.25,335.80 L436.00,336.30 L436.75,336.81 L437.50,337.37 L438.25,337.83 L439.00,338.23 L439.75,338.59 L440.50,338.94 L441.25,339.17 L442.00,339.41 L442.75,339.68 L443.50,340.08 L444.25,340.27 L445.00,340.57 L445.75,340.75 L446.50,340.99 L447.25,341.09 L448.00,341.23 L448.75,341.47 L449.50,341.61 L450.25,341.78 L451.00,341.88 L451.75,342.01 L452.50,342.13 L453.25,342.21 L454.00,342.34 L454.75,342.47 L455.50,342.63 L456.25,342.73 L457.00,342.86 L457.75,343.01 L458.50,343.14 L459.25,343.16 L460.00,343.20 L460.75,343.25 L461.50,343.23 L462.25,343.24 L463.00,343.31 L463.75,343.52 L464.50,343.57 L465.25,343.64 L466.00,343.61 L466.75,343.68 L467.50,343.63 L468.25,343.74 L469.00,343.75 L469.75,343.91 L470.50,343.91 L471.25,343.93 L472.00,343.85 L472.75,343.93 L473.50,343.96 L474.25,343.98 L475.00,343.91 L475.75,343.97 L476.50,344.01 L477.25,344.03 L478.00,343.96 L478.75,343.94 L479.50,343.87 L480.25,343.88 L481.00,343.96 L481.75,343.99 L482.50,343.94 L483.25,343.93 L484.00,343.93 L484.75,344.05 L485.50,344.04 L486.25,344.04 L487.00,343.98 L487.75,343.91 L488.50,343.90 L489.25,343.90 L490.00,344.00 L490.75,343.99 L491.50,344.01 L492.25,343.95 L493.00,343.99 L493.75,344.04 L494.50,343.99 L495.25,344.02 L496.00,344.04 L496.75,344.09 L497.50,344.09 L498.25,344.03 L499.00,343.97 L499.75,343.95 L500.50,343.95 L501.25,343.92 L502.00,343.97 L502.75,343.96 L503.50,344.00 L504.25,343.89 L505.00,343.81 L505.75,343.89 L506.50,343.92 L507.25,344.02 L508.00,344.01 L508.75,344.06 L509.50,344.12 L510.25,344.09 L511.00,344.03 L511.75,344.01 L512.50,344.00 L513.25,344.05 L514.00,344.05 L514.75,344.18 L515.50,344.12 L516.25,344.05 L517.00,343.95 L517.75,344.01 L518.50,344.10 L519.25,344.06 L520.00,344.05 L520.75,343.98 L521.50,343.99 L522.25,344.04 L523.00,344.13 L523.75,344.12 L524.50,344.06" stroke="#00f0f0"/>
<path d="M52.00,344.07 L52.75,344.03 L53.50,344.02 L54.25,344.00 L55.00,344.04 L55.75,343.96 L56.50,344.01 L57.25,344.02 L58.00,344.02 L58.75,343.92 L59.50,343.89 L60.25,343.89 L61.00,344.01 L61.75,344.03 L62.50,344.07 L63.25,344.03 L64.00,344.03 L64.75,343.96 L65.50,343.93 L66.25,343.93 L67.00,343.88 L67.75,343.69 L68.50,343.55 L69.25,343.24 L70.00,342.86 L70.75,342.38 L71.50,341.85 L72.25,341.44 L73.00,340.74 L73.75,340.18 L74.50,339.94 L75.25,339.66 L76.00,339.23 L76.75,338.29 L77.50,337.64 L78.25,336.75 L79.00,336.10 L79.75,335.86 L80.50,335.85 L81.25,335.97 L82.00,334.81 L82.75,334.16 L83.50,333.22 L84.25,333.36 L85.00,332.89 L85.75,332.25 L86.50,331.48 L87.25,330.97 L88.00,330.69 L88.75,329.71 L89.50,329.27 L90.25,328.97 L91.00,329.04 L91.75,328.56 L92.50,327.85 L93.25,327.39 L94.00,327.10 L94.75,326.73 L95.50,326.37 L96.25,326.37 L97.00,325.87 L97.75,325.50 L98.50,325.22 L99.25,325.28 L100.00,325.21 L100.75,324.77 L101.50,324.84 L102.25,326.11 L103.00,327.27 L103.75,328.34 L104.50,328.48 L105.25,329.13 L106.00,329.60 L106.75,330.27 L107.50,330.52 L108.25,331.53 L109.00,332.21 L109.75,332.94 L110.50,333.27 L111.25,333.54 L112.00,334.07 L112.75,333.85 L113.50,333.86 L114.25,332.75 L115.00,332.07 L115.75,331.41 L116.50,331.05 L117.25,330.93 L118.00,330.65 L118.75,330.30 L119.50,330.13 L120.25,330.15 L121.00,330.47 L121.75,330.62 L122.50,330.62 L123.25,330.81 L124.00,330.58 L124.75,330.66 L125.50,330.35 L126.25,330.44 L127.00,330.23 L127.75,330.94 L128.50,331.45 L129.25,331.68 L130.00,331.31 L130.75,331.08 L131.50,330.92 L132.25,330.82 L133.00,330.99 L133.75,331.08 L134.50,331.11 L135.25,331.83 L136.00,331.84 L136.75,332.45 L137.50,332.13 L138.25,333.18 L139.00,333.43 L139.75,334.13 L140.50,333.85 L141.25,333.87 L142.00,333.93 L142.75,334.51 L143.50,334.92 L144.25,335.38 L145.00,335.72 L145.75,336.18 L146.50,336.03 L147.25,336.10 L148.00,336.38 L148.75,336.63 L149.50,336.69 L150.25,336.36 L151.00,336.64 L151.75,336.78 L152.50,336.76 L153.25,336.81 L154.00,337.01 L154.75,337.32 L155.50,337.40 L156.25,337.39 L157.00,337.59 L157.75,337.66 L158.50,337.56 L159.25,337.55 L160.00,337.58 L160.75,337.73 L161.50,337.67 L162.25,337.46 L163.00,337.26 L163.75,336.97 L164.50,337.12 L165.25,337.22 L166.00,337.60 L166.75,337.38 L167.50,337.25 L168.25,337.07 L169.00,337.16 L169.75,337.29 L170.50,337.34 L171.25,337.15 L172.00,336.84 L172.75,336.81 L173.50,336.73 L174.25,336.96 L175.00,337.03 L175.75,337.18 L176.50,337.16 L177.25,337.08 L178.00,337.23 L178.75,337.23 L179.50,337.38 L180.25,337.39 L181.00,337.56 L181.75,337.70 L182.50,338.00 L183.25,338.28 L184.00,338.34 L184.75,338.28 L185.50,338.39 L186.25,338.52 L187.00,338.54 L187.75,338.65 L188.50,338.67 L189.25,338.85 L190.00,338.77 L190.75,338.97 L191.50,339.00 L192.25,339.13 L193.00,338.91 L193.75,338.90 L194.50,338.69 L195.25,338.70 L196.00,338.54 L196.75,338.54 L197.50,338.37 L198.25,338.19 L199.00,337.91 L199.75,337.58 L200.50,337.27 L201.25,336.84 L202.00,336.45 L202.75,335.86 L203.50,335.32 L204.25,334.60 L205.00,333.75 L205.75,332.52 L206.50,331.15 L207.25,329.62 L208.00,328.00 L208.75,326.25 L209.50,324.38 L210.25,322.47 L211.00,320.76 L211.75,319.09 L212.50,317.67 L213.25,316.27 L214.00,315.12 L214.75,314.07 L215.50,313.27 L216.25,312.62 L217.00,312.02 L217.75,311.53 L218.50,311.22 L219.25,311.23 L220.00,311.39 L220.75,311.65 L221.50,311.94 L222.25,312.40 L223.00,313.05 L223.75,313.88 L224.50,314.64 L225.25,315.61 L226.00,316.55 L226.75,317.70 L227.50,318.73 L228.25,320.04 L229.00,321.44 L229.75,322.93 L230.50,324.29 L231.25,325.58 L232.00,326.85 L232.75,328.10 L233.50,329.37 L234.25,330.43 L235.00,331.37 L235.75,332.08 L236.50,332.93 L237.25,333.61 L238.00,334.37 L238.75,334.97 L239.50,335.48 L240.25,335.97 L241.00,336.42 L241.75,336.89 L242.50,337.32 L243.25,337.67 L244.00,338.04 L244.75,338.20 L245.50,338.42 L246.25,338.60 L247.00,338.84 L247.75,339.07 L248.50,339.29 L249.25,339.59 L250.00,339.75 L250.75,339.90 L251.50,340.02 L252.25,340.14 L253.00,340.38 L253.75,340.49 L254.50,340.74 L255.25,340.85 L256.00,341.02 L256.75,341.05 L257.50,341.19 L258.25,341.36 L259.00,341.59 L259.75,341.57 L260.50,341.60 L261.25,341.63 L262.00,341.71 L262.75,341.80 L263.50,341.97 L264.25,342.13 L265.00,342.23 L265.75,342.08 L266.50,342.13 L267.25,342.06 L268.00,342.14 L268.75,342.08 L269.50,342.06 L270.25,342.01 L271.00,341.98 L271.75,341.98 L272.50,341.96 L273.25,341.92 L274.00,341.86 L274.75,341.78 L275.50,341.69 L276.25,341.57 L277.00,341.52 L277.75,341.36 L278.50,341.33 L279.25,341.28 L280.00,341.24 L280.75,341.15 L281.50,341.01 L282.25,340.91 L283.00,340.79 L283.75,340.71 L284.50,340.62 L285.25,340.50 L286.00,340.40 L286.75,340.38 L287.50,340.29 L288.25,340.22 L289.00,340.09 L289.75,340.00 L290.50,339.80 L291.25,339.62 L292.00,339.49 L292.75,339.42 L293.50,339.39 L294.25,339.32 L295.00,339.21 L295.75,339.02 L296.50,338.81 L297.25,338.61 L298.00,338.45 L298.75,338.34 L299.50,338.01 L300.25,337.56 L301.00,336.98 L301.75,336.51 L302.50,336.05 L303.25,335.52 L304.00,335.12 L304.75,334.74 L305.50,334.53 L306.25,334.29 L307.00,334.18 L307.75,334.09 L308.50,334.09 L309.25,334.06 L310.00,334.12 L310.75,334.24 L311.50,334.46 L312.25,334.69 L313.00,334.78 L313.75,334.98 L314.50,335.17 L315.25,335.54 L316.00,335.83 L316.75,336.03 L317.50,336.22 L318.25,336.38 L319.00,336.56 L319.75,336.66 L320.50,336.82 L321.25,337.03 L322.00,337.25 L322.75,337.41 L323.50,337.45 L324.25,337.61 L325.00,337.69 L325.75,337.93 L326.50,338.00 L327.25,338.03 L328.00,337.97 L328.75,337.94 L329.50,337.99 L330.25,338.06 L331.00,338.12 L331.75,338.14 L332.50,338.07 L333.25,337.97 L334.00,337.90 L334.75,337.91 L335.50,337.91 L336.25,337.80 L337.00,337.66 L337.75,337.56 L338.50,337.38 L339.25,337.24 L340.00,337.04 L340.75,336.99 L341.50,336.87 L342.25,336.66 L343.00,336.49 L343.75,336.27 L344.50,336.08 L345.25,335.75 L346.00,335.50 L346.75,335.27 L347.50,335.10 L348.25,334.81 L349.00,334.48 L349.75,334.18 L350.50,333.88 L351.25,333.61 L352.00,333.34 L352.75,333.06 L353.50,332.65 L354.25,332.13 L355.00,331.64 L355.75,331.21 L356.50,330.78 L357.25,330.22 L358.00,329.57 L358.75,328.94 L359.50,328.22 L360.25,327.50 L361.00,326.59 L361.75,325.71 L362.50,324.70 L363.25,323.65 L364.00,322.54 L364.75,321.45 L365.50,320.29 L366.25,318.95 L367.00,317.45 L367.75,315.93 L368.50,314.40 L369.25,312.61 L370.00,310.56 L370.75,308.42 L371.50,306.27 L372.25,304.00 L373.00,301.70 L373.75,299.24 L374.50,296.69 L375.25,293.98 L376.00,291.42 L376.75,288.76 L377.50,286.10 L378.25,283.29 L379.00,280.65 L379.75,277.92 L380.50,275.12 L381.25,272.04 L382.00,268.76 L382.75,265.31 L383.50,261.68 L384.25,257.95 L385.00,253.97 L385.75,249.97 L386.50,245.99 L387.25,241.90 L388.00,237.74 L388.75,233.53 L389.50,229.51 L390.25,225.65 L391.00,221.96 L391.75,218.49 L392.50,215.32 L393.25,212.64 L394.00,210.58 L394.75,209.35 L395.50,208.85 L396.25,209.25 L397.00,210.29 L397.75,211.90 L398.50,214.02 L399.25,216.71 L400.00,219.95 L400.75,223.52 L401.50,227.25 L402.25,231.11 L403.00,235.21 L403.75,239.45 L404.50,243.85 L405.25,248.31 L406.00,252.97 L406.75,257.52 L407.50,262.06 L408.25,266.59 L409.00,271.14 L409.75,275.48 L410.50,279.61 L411.25,283.66 L412.00,287.68 L412.75,291.56 L413.50,295.25 L414.25,298.77 L415.00,302.06 L415.75,305.34 L416.50,308.30 L417.25,310.96 L418.00,313.24 L418.75,315.38 L419.50,317.28 L420.25,318.97 L421.00,320.54 L421.75,322.12 L422.50,323.56 L423.25,324.88 L424.00,326.15 L424.75,327.40 L425.50,328.54 L426.25,329.64 L427.00,330.68 L427.75,331.68 L428.50,332.51 L429.25,333.27 L430.00,334.05 L430.75,334.66 L431.50,335.22 L432.25,335.71 L433.00,336.32 L433.75,336.82 L434.50,337.21 L435.25,337.65 L436.00,338.07 L436.75,338.55 L437.50,338.88 L438.25,339.28 L439.00,339.64 L439.75,339.94 L440.50,340.16 L441.25,340.30 L442.00,340.56 L442.75,340.72 L443.50,340.94 L444.25,341.03 L445.00,341.27 L445.75,341.38 L446.50,341.59 L447.25,341.72 L448.00,341.88 L448.75,342.08 L449.50,342.25 L450.25,342.33 L451.00,342.42 L451.75,342.50 L452.50,342.65 L453.25,342.62 L454.00,342.71 L454.75,342.80 L455.50,342.99 L456.25,343.06 L457.00,343.09 L457.75,343.10 L458.50,343.15 L459.25,343.24 L460.00,343.32 L460.75,343.37 L461.50,343.47 L462.25,343.58 L463.00,343.61 L463.75,343.70 L464.50,343.66 L465.25,343.64 L466.00,343.56 L466.75,343.54 L467.50,343.69 L468.25,343.77 L469.00,343.92 L469.75,343.93 L470.50,344.03 L471.25,344.07 L472.00,344.01 L472.75,343.93 L473.50,343.84 L474.25,343.83 L475.00,343.83 L475.75,343.92 L476.50,343.97 L477.25,343.97 L478.00,343.89 L478.75,343.90 L479.50,343.95 L480.25,344.02 L481.00,343.94 L481.75,343.90 L482.50,343.90 L483.25,344.00 L484.00,344.00 L484.75,344.06 L485.50,344.04 L486.25,344.08 L487.00,344.04 L487.75,344.02 L488.50,343.98 L489.25,343.83 L490.00,343.84 L490.75,343.82 L491.50,343.98 L492.25,344.06 L493.00,344.04 L493.75,343.93 L494.50,343.90 L495.25,343.95 L496.00,343.99 L496.75,343.94 L497.50,344.04 L498.25,344.04 L499.00,344.05 L499.75,343.92 L500.50,344.01 L501.25,343.96 L502.00,343.95 L502.75,343.94 L503.50,343.96 L504.25,344.03 L505.00,344.02 L505.75,344.08 L506.50,344.07 L507.25,344.08 L508.00,343.99 L508.75,343.98 L509.50,344.00 L510.25,343.99 L511.00,343.96 L511.75,343.88 L512.50,343.94 L513.25,343.93 L514.00,343.97 L514.75,344.01 L515.50,344.04 L516.25,344.03 L517.00,343.98 L517.75,343.95 L518.50,344.03 L519.25,344.02 L520.00,344.09 L520.75,344.03 L521.50,344.02 L522.25,343.99 L523.00,344.00 L523.75,343.99 L524.50,343.99" stroke="#1010ff"/>
<path d="M52.00,343.96 L52.75,343.91 L53.50,343.92 L54.25,344.00 L55.00,344.05 L55.75,344.00 L56.50,343.94 L57.25,344.00 L58.00,344.10 L58.75,344.15 L59.50,344.14 L60.25,344.05 L61.00,344.00 L61.75,343.93 L62.50,343.96 L63.25,343.89 L64.00,343.93 L64.75,343.90 L65.50,343.99 L66.25,343.96 L67.00,343.85 L67.75,343.65 L68.50,343.42 L69.25,343.23 L70.00,342.89 L70.75,342.45 L71.50,341.95 L72.25,341.58 L73.00,341.34 L73.75,340.97 L74.50,340.46 L75.25,339.74 L76.00,339.07 L76.75,338.55 L77.50,338.39 L78.25,338.17 L79.00,337.19 L79.75,336.61 L80.50,335.85 L81.25,335.96 L82.00,335.32 L82.75,334.93 L83.50,334.30 L84.25,333.53 L85.00,333.09 L85.75,332.51 L86.50,332.35 L87.25,331.57 L88.00,331.37 L88.75,330.82 L89.50,330.74 L90.25,330.55 L91.00,330.49 L91.75,330.08 L92.50,329.54 L93.25,328.96 L94.00,328.11 L94.75,327.75 L95.50,327.38 L96.25,327.52 L97.00,327.40 L97.75,327.59 L98.50,327.20 L99.25,326.55 L100.00,326.24 L100.75,326.56 L101.50,327.15 L102.25,327.97 L103.00,328.50 L103.75,328.98 L104.50,328.93 L105.25,329.83 L106.00,330.69 L106.75,331.64 L107.50,332.07 L108.25,332.57 L109.00,333.18 L109.75,333.66 L110.50,334.06 L111.25,334.44 L112.00,335.13 L112.75,335.17 L113.50,335.37 L114.25,334.04 L115.00,333.38 L115.75,332.39 L116.50,331.94 L117.25,331.80 L118.00,331.29 L118.75,331.12 L119.50,330.91 L120.25,331.05 L121.00,331.24 L121.75,331.55 L122.50,331.78 L123.25,332.12 L124.00,332.40 L124.75,331.90 L125.50,331.47 L126.25,331.37 L127.00,331.77 L127.75,332.13 L128.50,332.50 L129.25,332.79 L130.00,332.84 L130.75,332.00 L131.50,331.59 L132.25,331.29 L133.00,331.67 L133.75,331.88 L134.50,332.62 L135.25,332.82 L136.00,333.11 L136.75,333.35 L137.50,333.66 L138.25,333.73 L139.00,333.32 L139.75,333.34 L140.50,334.07 L141.25,334.78 L142.00,335.49 L142.75,335.39 L143.50,335.83 L144.25,336.19 L145.00,337.02 L145.75,337.01 L146.50,336.91 L147.25,336.90 L148.00,337.25 L148.75,337.52 L149.50,337.32 L150.25,337.56 L151.00,337.66 L151.75,337.96 L152.50,337.78 L153.25,337.65 L154.00,337.64 L154.75,337.73 L155.50,337.77 L156.25,337.79 L157.00,337.85 L157.75,338.08 L158.50,338.45 L159.25,338.51 L160.00,338.67 L160.75,338.67 L161.50,338.72 L162.25,338.84 L163.00,338.79 L163.75,338.81 L164.50,338.54 L165.25,338.46 L166.00,338.34 L166.75,338.19 L167.50,338.05 L168.25,338.22 L169.00,338.58 L169.75,338.75 L170.50,338.72 L171.25,338.73 L172.00,338.82 L172.75,338.91 L173.50,338.79 L174.25,338.52 L175.00,338.25 L175.75,338.35 L176.50,338.58 L177.25,338.93 L178.00,339.05 L178.75,339.08 L179.50,339.04 L180.25,339.03 L181.00,339.05 L181.75,339.16 L182.50,339.11 L183.25,339.29 L184.00,339.29 L184.75,339.47 L185.50,339.52 L186.25,339.62 L187.00,339.79 L187.75,339.94 L188.50,340.07 L189.25,340.08 L190.00,340.09 L190.75,340.20 L191.50,340.30 L192.25,340.32 L193.00,340.23 L193.75,340.15 L194.50,340.01 L195.25,339.91 L196.00,339.75 L196.75,339.71 L197.50,339.72 L198.25,339.55 L199.00,339.50 L199.75,339.25 L200.50,339.10 L201.25,338.77 L202.00,338.46 L202.75,338.17 L203.50,337.77 L204.25,337.24 L205.00,336.46 L205.75,335.63 L206.50,334.64 L207.25,333.61 L208.00,332.41 L208.75,331.18 L209.50,329.83 L210.25,328.54 L211.00,327.23 L211.75,326.05 L212.50,324.95 L213.25,323.98 L214.00,323.12 L214.75,322.39 L215.50,321.77 L216.25,321.32 L217.00,320.81 L217.75,320.61 L218.50,320.44 L219.25,320.52 L220.00,320.54 L220.75,320.65 L221.50,320.89 L222.25,321.25 L223.00,321.63 L223.75,322.09 L224.50,322.68 L225.25,323.44 L226.00,324.29 L226.75,325.09 L227.50,325.90 L228.25,326.82 L229.00,327.86 L229.75,328.92 L230.50,329.96 L231.25,330.81 L232.00,331.80 L232.75,332.61 L233.50,333.48 L234.25,334.12 L235.00,334.76 L235.75,335.44 L236.50,336.12 L237.25,336.65 L238.00,337.14 L238.75,337.53 L239.50,337.99 L240.25,338.25 L241.00,338.54 L241.75,338.92 L242.50,339.21 L243.25,339.49 L244.00,339.64 L244.75,339.88 L245.50,340.13 L246.25,340.28 L247.00,340.39 L247.75,340.44 L248.50,340.51 L249.25,340.67 L250.00,340.89 L250.75,341.03 L251.50,341.25 L252.25,341.38 L253.00,341.51 L253.75,341.41 L254.50,341.49 L255.25,341.61 L256.00,341.85 L256.75,341.92 L257.50,342.03 L258.25,342.11 L259.00,342.18 L259.75,342.26 L260.50,342.28 L261.25,342.37 L262.00,342.48 L262.75,342.55 L263.50,342.56 L264.25,342.58 L265.00,342.56 L265.75,342.59 L266.50,342.58 L267.25,342.62 L268.00,342.65 L268.75,342.65 L269.50,342.59 L270.25,342.51 L271.00,342.46 L271.75,342.48 L272.50,342.49 L273.25,342.41 L274.00,342.30 L274.75,342.28 L275.50,342.26 L276.25,342.28 L277.00,342.18 L277.75,342.08 L278.50,342.06 L279.25,342.11 L280.00,342.11 L280.75,342.07 L281.50,341.86 L282.25,341.81 L283.00,341.69 L283.75,341.68 L284.50,341.57 L285.25,341.50 L286.00,341.43 L286.75,341.32 L287.50,341.24 L288.25,341.08 L289.00,341.02 L289.75,341.01 L290.50,340.97 L291.25,340.97 L292.00,340.78 L292.75,340.65 L293.50,340.46 L294.25,340.45 L295.00,340.49 L295.75,340.45 L296.50,340.25 L297.25,340.13 L298.00,339.94 L298.75,339.81 L299.50,339.56 L300.25,339.34 L301.00,338.97 L301.75,338.69 L302.50,338.39 L303.25,338.09 L304.00,337.68 L304.75,337.43 L305.50,337.30 L306.25,337.22 L307.00,337.02 L307.75,336.91 L308.50,336.76 L309.25,336.74 L310.00,336.75 L310.75,336.89 L311.50,337.01 L312.25,337.13 L313.00,337.29 L313.75,337.46 L314.50,337.64 L315.25,337.82 L316.00,337.97 L316.75,338.19 L317.50,338.38 L318.25,338.57 L319.00,338.65 L319.75,338.70 L320.50,338.90 L321.25,339.07 L322.00,339.24 L322.75,339.28 L323.50,339.38 L324.25,339.44 L325.00,339.52 L325.75,339.57 L326.50,339.60 L327.25,339.66 L328.00,339.73 L328.75,339.81 L329.50,339.82 L330.25,339.77 L331.00,339.78 L331.75,339.75 L332.50,339.77 L333.25,339.69 L334.00,339.66 L334.75,339.58 L335.50,339.54 L336.25,339.44 L337.00,339.36 L337.75,339.32 L338.50,339.22 L339.25,339.09 L340.00,338.92 L340.75,338.85 L341.50,338.72 L342.25,338.60 L343.00,338.42 L343.75,338.46 L344.50,338.31 L345.25,338.22 L346.00,337.94 L346.75,337.72 L347.50,337.51 L348.25,337.33 L349.00,337.27 L349.75,337.02 L350.50,336.73 L351.25,336.38 L352.00,336.19 L352.75,335.98 L353.50,335.67 L354.25,335.34 L355.00,334.95 L355.75,334.66 L356.50,334.36 L357.25,334.00 L358.00,333.46 L358.75,332.92 L359.50,332.41 L360.25,331.92 L361.00,331.35 L361.75,330.72 L362.50,330.06 L363.25,329.23 L364.00,328.36 L364.75,327.38 L365.50,326.49 L366.25,325.54 L367.00,324.57 L367.75,323.44 L368.50,322.14 L369.25,320.64 L370.00,319.22 L370.75,317.74 L371.50,316.18 L372.25,314.42 L373.00,312.60 L373.75,310.84 L374.50,308.99 L375.25,307.11 L376.00,305.22 L376.75,303.34 L377.50,301.41 L378.25,299.47 L379.00,297.50 L379.75,295.55 L380.50,293.42 L381.25,291.19 L382.00,288.78 L382.75,286.25 L383.50,283.60 L384.25,280.84 L385.00,278.15 L385.75,275.29 L386.50,272.43 L387.25,269.38 L388.00,266.48 L388.75,263.56 L389.50,260.81 L390.25,258.14 L391.00,255.63 L391.75,253.26 L392.50,251.05 L393.25,249.27 L394.00,247.87 L394.75,247.02 L395.50,246.61 L396.25,246.81 L397.00,247.49 L397.75,248.71 L398.50,250.24 L399.25,252.13 L400.00,254.18 L400.75,256.54 L401.50,259.16 L402.25,261.93 L403.00,264.85 L403.75,267.74 L404.50,270.87 L405.25,273.98 L406.00,277.24 L406.75,280.41 L407.50,283.75 L408.25,286.99 L409.00,290.22 L409.75,293.29 L410.50,296.28 L411.25,299.21 L412.00,302.14 L412.75,305.06 L413.50,307.74 L414.25,310.23 L415.00,312.67 L415.75,315.11 L416.50,317.37 L417.25,319.38 L418.00,321.09 L418.75,322.70 L419.50,324.10 L420.25,325.42 L421.00,326.68 L421.75,327.84 L422.50,328.85 L423.25,329.78 L424.00,330.70 L424.75,331.63 L425.50,332.52 L426.25,333.35 L427.00,334.21 L427.75,334.84 L428.50,335.48 L429.25,336.02 L430.00,336.69 L430.75,337.14 L431.50,337.56 L432.25,337.92 L433.00,338.30 L433.75,338.80 L434.50,339.11 L435.25,339.55 L436.00,339.65 L436.75,340.04 L437.50,340.30 L438.25,340.69 L439.00,340.79 L439.75,340.92 L440.50,341.07 L441.25,341.29 L442.00,341.41 L442.75,341.61 L443.50,341.73 L444.25,341.88 L445.00,342.03 L445.75,342.19 L446.50,342.33 L447.25,342.36 L448.00,342.48 L448.75,342.62 L449.50,342.65 L450.25,342.69 L451.00,342.74 L451.75,342.89 L452.50,342.97 L453.25,343.01 L454.00,343.04 L454.75,343.02 L455.50,343.15 L456.25,343.23 L457.00,343.32 L457.75,343.35 L458.50,343.42 L459.25,343.49 L460.00,343.51 L460.75,343.58 L461.50,343.63 L462.25,343.74 L463.00,343.76 L463.75,343.83 L464.50,343.88 L465.25,343.85 L466.00,343.84 L466.75,343.86 L467.50,343.85 L468.25,343.90 L469.00,343.85 L469.75,343.92 L470.50,343.93 L471.25,344.00 L472.00,344.04 L472.75,343.94 L473.50,343.90 L474.25,343.90 L475.00,344.00 L475.75,344.11 L476.50,344.10 L477.25,344.11 L478.00,344.05 L478.75,344.06 L479.50,343.99 L480.25,343.94 L481.00,343.93 L481.75,343.93 L482.50,343.97 L483.25,343.94 L484.00,343.92 L484.75,343.85 L485.50,343.84 L486.25,343.90 L487.00,344.03 L487.75,344.06 L488.50,343.98 L489.25,343.95 L490.00,343.92 L490.75,343.96 L491.50,343.94 L492.25,343.99 L493.00,344.05 L493.75,344.11 L494.50,344.14 L495.25,344.13 L496.00,344.07 L496.75,344.05 L497.50,344.11 L498.25,344.14 L499.00,344.12 L499.75,344.11 L500.50,344.09 L501.25,344.17 L502.00,344.16 L502.75,344.10 L503.50,344.00 L504.25,343.94 L505.00,344.01 L505.75,343.99 L506.50,343.93 L507.25,343.91 L508.00,343.93 L508.75,343.98 L509.50,343.99 L510.25,344.00 L511.00,344.02 L511.75,343.98 L512.50,344.02 L513.25,344.02 L514.00,344.07 L514.75,344.04 L515.50,343.98 L516.25,343.94 L517.00,344.00 L517.75,344.01 L518.50,344.06 L519.25,344.07 L520.00,344.11 L520.75,344.04 L521.50,343.96 L522.25,343.93 L523.00,343.91 L523.75,343.90 L524.50,343.92" stroke="#00e800"/>
<path d="M52.00,343.99 L52.75,344.01 L53.50,343.98 L54.25,343.99 L55.00,343.98 L55.75,344.05 L56.50,344.08 L57.25,344.09 L58.00,344.03 L58.75,344.05 L59.50,344.08 L60.25,344.14 L61.00,344.09 L61.75,344.02 L62.50,343.94 L63.25,343.97 L64.00,343.92 L64.75,343.91 L65.50,343.90 L66.25,343.94 L67.00,343.90 L67.75,343.74 L68.50,343.61 L69.25,343.32 L70.00,343.05 L70.75,342.75 L71.50,342.38 L72.25,341.93 L73.00,341.59 L73.75,341.30 L74.50,341.16 L75.25,340.51 L76.00,340.02 L76.75,339.25 L77.50,339.05 L78.25,338.40 L79.00,338.22 L79.75,337.71 L80.50,337.33 L81.25,336.85 L82.00,336.43 L82.75,335.91 L83.50,335.39 L84.25,334.57 L85.00,333.79 L85.75,333.46 L86.50,333.35 L87.25,333.77 L88.00,333.49 L88.75,332.90 L89.50,332.13 L90.25,331.45 L91.00,331.10 L91.75,330.97 L92.50,331.03 L93.25,330.57 L94.00,329.98 L94.75,329.07 L95.50,329.11 L96.25,328.96 L97.00,329.26 L97.75,329.17 L98.50,329.07 L99.25,328.53 L100.00,328.07 L100.75,328.08 L101.50,329.18 L102.25,330.03 L103.00,330.68 L103.75,330.41 L104.50,330.88 L105.25,331.57 L106.00,332.43 L106.75,333.06 L107.50,333.58 L108.25,333.65 L109.00,333.98 L109.75,334.31 L110.50,334.82 L111.25,334.92 L112.00,335.34 L112.75,335.69 L113.50,335.87 L114.25,335.52 L115.00,335.12 L115.75,334.67 L116.50,333.81 L117.25,333.26 L118.00,332.63 L118.75,332.69 L119.50,332.49 L120.25,332.91 L121.00,332.94 L121.75,333.05 L122.50,332.73 L123.25,332.49 L124.00,332.28 L124.75,332.24 L125.50,332.45 L126.25,332.91 L127.00,333.42 L127.75,333.54 L128.50,333.82 L129.25,333.83 L130.00,334.06 L130.75,334.24 L131.50,333.59 L132.25,333.21 L133.00,333.37 L133.75,333.95 L134.50,334.47 L135.25,334.71 L136.00,335.06 L136.75,335.10 L137.50,334.75 L138.25,334.70 L139.00,335.14 L139.75,335.50 L140.50,335.84 L141.25,335.82 L142.00,336.00 L142.75,336.39 L143.50,336.51 L144.25,337.07 L145.00,337.61 L145.75,337.70 L146.50,337.56 L147.25,337.24 L148.00,337.69 L148.75,337.99 L149.50,338.41 L150.25,338.55 L151.00,338.68 L151.75,338.72 L152.50,338.85 L153.25,338.72 L154.00,338.66 L154.75,338.48 L155.50,338.78 L156.25,338.97 L157.00,339.12 L157.75,339.02 L158.50,339.40 L159.25,339.52 L160.00,339.60 L160.75,339.36 L161.50,339.49 L162.25,339.59 L163.00,339.40 L163.75,339.27 L164.50,339.17 L165.25,339.19 L166.00,339.18 L166.75,339.31 L167.50,339.56 L168.25,339.78 L169.00,339.61 L169.75,339.51 L170.50,339.30 L171.25,339.34 L172.00,339.38 L172.75,339.64 L173.50,339.75 L174.25,339.56 L175.00,339.55 L175.75,339.65 L176.50,339.93 L177.25,339.81 L178.00,339.80 L178.75,339.94 L179.50,340.17 L180.25,340.24 L181.00,340.21 L181.75,340.15 L182.50,340.02 L183.25,340.00 L184.00,340.11 L184.75,340.37 L185.50,340.60 L186.25,340.68 L187.00,340.66 L187.75,340.62 L188.50,340.74 L189.25,340.85 L190.00,340.99 L190.75,341.04 L191.50,341.13 L192.25,341.12 L193.00,341.11 L193.75,341.01 L194.50,340.98 L195.25,340.94 L196.00,340.90 L196.75,340.82 L197.50,340.71 L198.25,340.74 L199.00,340.62 L199.75,340.56 L200.50,340.42 L201.25,340.31 L202.00,340.15 L202.75,339.89 L203.50,339.60 L204.25,339.12 L205.00,338.66 L205.75,338.04 L206.50,337.41 L207.25,336.54 L208.00,335.71 L208.75,334.77 L209.50,333.81 L210.25,332.90 L211.00,332.03 L211.75,331.33 L212.50,330.58 L213.25,329.88 L214.00,329.22 L214.75,328.65 L215.50,328.25 L216.25,327.93 L217.00,327.68 L217.75,327.50 L218.50,327.40 L219.25,327.42 L220.00,327.45 L220.75,327.52 L221.50,327.69 L222.25,327.95 L223.00,328.35 L223.75,328.70 L224.50,329.10 L225.25,329.54 L226.00,330.01 L226.75,330.61 L227.50,331.17 L228.25,331.87 L229.00,332.60 L229.75,333.33 L230.50,333.98 L231.25,334.63 L232.00,335.27 L232.75,335.94 L233.50,336.51 L234.25,337.01 L235.00,337.46 L235.75,337.92 L236.50,338.35 L237.25,338.72 L238.00,339.04 L238.75,339.35 L239.50,339.76 L240.25,339.99 L241.00,340.18 L241.75,340.28 L242.50,340.57 L243.25,340.77 L244.00,340.85 L244.75,340.89 L245.50,341.11 L246.25,341.35 L247.00,341.49 L247.75,341.54 L248.50,341.57 L249.25,341.64 L250.00,341.82 L250.75,341.97 L251.50,342.08 L252.25,342.00 L253.00,342.09 L253.75,342.21 L254.50,342.37 L255.25,342.41 L256.00,342.50 L256.75,342.51 L257.50,342.60 L258.25,342.57 L259.00,342.65 L259.75,342.68 L260.50,342.70 L261.25,342.71 L262.00,342.79 L262.75,342.89 L263.50,342.95 L264.25,342.96 L265.00,343.00 L265.75,343.04 L266.50,343.09 L267.25,343.08 L268.00,343.21 L268.75,343.16 L269.50,343.05 L270.25,342.87 L271.00,342.82 L271.75,342.87 L272.50,342.90 L273.25,342.88 L274.00,342.86 L274.75,342.81 L275.50,342.79 L276.25,342.79 L277.00,342.74 L277.75,342.69 L278.50,342.59 L279.25,342.55 L280.00,342.50 L280.75,342.48 L281.50,342.53 L282.25,342.59 L283.00,342.55 L283.75,342.46 L284.50,342.31 L285.25,342.30 L286.00,342.22 L286.75,342.21 L287.50,342.13 L288.25,342.07 L289.00,341.99 L289.75,341.90 L290.50,341.84 L291.25,341.77 L292.00,341.70 L292.75,341.63 L293.50,341.61 L294.25,341.61 L295.00,341.56 L295.75,341.50 L296.50,341.40 L297.25,341.19 L298.00,341.02 L298.75,340.90 L299.50,340.82 L300.25,340.65 L301.00,340.38 L301.75,340.11 L302.50,339.93 L303.25,339.66 L304.00,339.53 L304.75,339.30 L305.50,339.27 L306.25,339.19 L307.00,339.17 L307.75,339.00 L308.50,338.83 L309.25,338.80 L310.00,338.95 L310.75,339.01 L311.50,339.10 L312.25,339.13 L313.00,339.22 L313.75,339.26 L314.50,339.35 L315.25,339.55 L316.00,339.77 L316.75,339.99 L317.50,340.18 L318.25,340.21 L319.00,340.34 L319.75,340.37 L320.50,340.49 L321.25,340.55 L322.00,340.60 L322.75,340.66 L323.50,340.72 L324.25,340.75 L325.00,340.78 L325.75,340.85 L326.50,340.87 L327.25,340.95 L328.00,340.91 L328.75,340.95 L329.50,340.92 L330.25,340.97 L331.00,341.02 L331.75,341.03 L332.50,341.04 L333.25,340.99 L334.00,340.98 L334.75,340.93 L335.50,340.86 L336.25,340.81 L337.00,340.77 L337.75,340.76 L338.50,340.66 L339.25,340.53 L340.00,340.37 L340.75,340.32 L341.50,340.19 L342.25,340.15 L343.00,339.98 L343.75,339.94 L344.50,339.89 L345.25,339.84 L346.00,339.70 L346.75,339.52 L347.50,339.30 L348.25,339.24 L349.00,339.08 L349.75,338.98 L350.50,338.74 L351.25,338.66 L352.00,338.49 L352.75,338.38 L353.50,338.10 L354.25,337.93 L355.00,337.64 L355.75,337.44 L356.50,337.10 L357.25,336.84 L358.00,336.46 L358.75,336.11 L359.50,335.61 L360.25,335.22 L361.00,334.80 L361.75,334.45 L362.50,333.96 L363.25,333.33 L364.00,332.68 L364.75,332.06 L365.50,331.45 L366.25,330.68 L367.00,329.94 L367.75,329.02 L368.50,328.14 L369.25,327.08 L370.00,326.12 L370.75,324.96 L371.50,323.81 L372.25,322.53 L373.00,321.32 L373.75,320.06 L374.50,318.79 L375.25,317.44 L376.00,316.05 L376.75,314.70 L377.50,313.36 L378.25,312.02 L379.00,310.66 L379.75,309.21 L380.50,307.70 L381.25,306.03 L382.00,304.30 L382.75,302.42 L383.50,300.54 L384.25,298.66 L385.00,296.73 L385.75,294.82 L386.50,292.77 L387.25,290.77 L388.00,288.63 L388.75,286.65 L389.50,284.67 L390.25,282.88 L391.00,281.05 L391.75,279.38 L392.50,277.93 L393.25,276.66 L394.00,275.74 L394.75,275.18 L395.50,275.07 L396.25,275.32 L397.00,275.82 L397.75,276.55 L398.50,277.57 L399.25,278.73 L400.00,280.26 L400.75,281.83 L401.50,283.56 L402.25,285.39 L403.00,287.34 L403.75,289.40 L404.50,291.52 L405.25,293.71 L406.00,296.06 L406.75,298.37 L407.50,300.68 L408.25,302.91 L409.00,305.17 L409.75,307.38 L410.50,309.52 L411.25,311.57 L412.00,313.63 L412.75,315.70 L413.50,317.63 L414.25,319.44 L415.00,321.20 L415.75,323.00 L416.50,324.65 L417.25,326.07 L418.00,327.28 L418.75,328.51 L419.50,329.56 L420.25,330.60 L421.00,331.41 L421.75,332.30 L422.50,332.97 L423.25,333.69 L424.00,334.36 L424.75,335.03 L425.50,335.70 L426.25,336.31 L427.00,336.90 L427.75,337.41 L428.50,337.82 L429.25,338.20 L430.00,338.56 L430.75,339.00 L431.50,339.36 L432.25,339.66 L433.00,339.88 L433.75,340.17 L434.50,340.44 L435.25,340.64 L436.00,340.89 L436.75,341.09 L437.50,341.42 L438.25,341.59 L439.00,341.77 L439.75,341.87 L440.50,341.97 L441.25,342.10 L442.00,342.20 L442.75,342.35 L443.50,342.45 L444.25,342.63 L445.00,342.69 L445.75,342.73 L446.50,342.78 L447.25,342.89 L448.00,343.06 L448.75,343.11 L449.50,343.19 L450.25,343.16 L451.00,343.21 L451.75,343.20 L452.50,343.30 L453.25,343.41 L454.00,343.48 L454.75,343.51 L455.50,343.41 L456.25,343.44 L457.00,343.39 L457.75,343.48 L458.50,343.54 L459.25,343.69 L460.00,343.75 L460.75,343.75 L461.50,343.72 L462.25,343.73 L463.00,343.77 L463.75,343.85 L464.50,343.87 L465.25,343.94 L466.00,343.90 L466.75,343.88 L467.50,343.94 L468.25,343.96 L469.00,344.01 L469.75,343.90 L470.50,343.90 L471.25,343.95 L472.00,343.97 L472.75,343.96 L473.50,344.00 L474.25,344.03 L475.00,344.12 L475.75,344.16 L476.50,344.20 L477.25,344.17 L478.00,344.15 L478.75,344.04 L479.50,344.05 L480.25,343.96 L481.00,344.00 L481.75,343.86 L482.50,343.89 L483.25,343.86 L484.00,343.99 L484.75,343.98 L485.50,344.05 L486.25,344.05 L487.00,344.03 L487.75,343.94 L488.50,343.82 L489.25,343.81 L490.00,343.93 L490.75,344.04 L491.50,344.05 L492.25,343.98 L493.00,343.93 L493.75,343.96 L494.50,344.02 L495.25,344.02 L496.00,344.01 L496.75,343.92 L497.50,343.97 L498.25,343.93 L499.00,343.94 L499.75,343.83 L500.50,343.79 L501.25,343.88 L502.00,344.01 L502.75,344.08 L503.50,344.07 L504.25,344.12 L505.00,344.07 L505.75,344.01 L506.50,343.88 L507.25,343.93 L508.00,343.90 L508.75,343.93 L509.50,343.94 L510.25,343.91 L511.00,343.96 L511.75,343.95 L512.50,344.09 L513.25,343.98 L514.00,344.01 L514.75,344.00 L515.50,344.13 L516.25,344.13 L517.00,344.00 L517.75,343.91 L518.50,343.96 L519.25,344.12 L520.00,344.03 L520.75,343.99 L521.50,343.97 L522.25,344.08 L523.00,344.03 L523.75,343.91 L524.50,343.91" stroke="#ff2020"/>
<path d="M52.00,344.04 L52.75,344.01 L53.50,344.04 L54.25,343.99 L55.00,344.01 L55.75,343.94 L56.50,343.98 L57.25,344.02 L58.00,344.05 L58.75,344.00 L59.50,344.03 L60.25,344.07 L61.00,344.09 L61.75,344.04 L62.50,343.92 L63.25,343.90 L64.00,343.83 L64.75,343.93 L65.50,343.95 L66.25,343.99 L67.00,343.83 L67.75,343.65 L68.50,343.34 L69.25,343.05 L70.00,342.49 L70.75,342.04 L71.50,341.44 L72.25,340.83 L73.00,340.17 L73.75,339.51 L74.50,339.13 L75.25,338.48 L76.00,337.88 L76.75,336.97 L77.50,336.56 L78.25,335.69 L79.00,335.28 L79.75,334.46 L80.50,333.46 L81.25,332.24 L82.00,331.62 L82.75,331.33 L83.50,331.36 L84.25,330.51 L85.00,329.54 L85.75,328.71 L86.50,328.30 L87.25,327.82 L88.00,327.14 L88.75,326.31 L89.50,325.46 L90.25,324.65 L91.00,323.98 L91.75,323.35 L92.50,322.86 L93.25,322.35 L94.00,322.16 L94.75,321.87 L95.50,321.39 L96.25,321.62 L97.00,321.39 L97.75,321.84 L98.50,321.26 L99.25,321.01 L100.00,320.56 L100.75,320.56 L101.50,320.68 L102.25,321.85 L103.00,322.70 L103.75,323.80 L104.50,324.34 L105.25,325.23 L106.00,325.94 L106.75,326.65 L107.50,327.41 L108.25,327.81 L109.00,328.56 L109.75,329.23 L110.50,330.56 L111.25,330.99 L112.00,331.74 L112.75,331.74 L113.50,331.64 L114.25,330.69 L115.00,330.07 L115.75,329.29 L116.50,328.77 L117.25,328.16 L118.00,327.50 L118.75,326.77 L119.50,326.20 L120.25,325.90 L121.00,326.41 L121.75,327.17 L122.50,327.60 L123.25,327.69 L124.00,327.24 L124.75,327.07 L125.50,326.99 L126.25,327.06 L127.00,327.20 L127.75,327.24 L128.50,327.73 L129.25,328.13 L130.00,328.11 L130.75,328.19 L131.50,328.08 L132.25,328.23 L133.00,328.36 L133.75,328.90 L134.50,329.08 L135.25,329.49 L136.00,329.58 L136.75,330.39 L137.50,330.57 L138.25,330.94 L139.00,330.85 L139.75,330.98 L140.50,331.28 L141.25,331.66 L142.00,332.35 L142.75,333.10 L143.50,333.87 L144.25,334.33 L145.00,334.41 L145.75,334.29 L146.50,334.38 L147.25,334.68 L148.00,334.99 L148.75,335.37 L149.50,335.61 L150.25,335.98 L151.00,336.09 L151.75,336.34 L152.50,336.70 L153.25,336.94 L154.00,337.17 L154.75,336.83 L155.50,336.68 L156.25,336.78 L157.00,337.29 L157.75,337.60 L158.50,337.83 L159.25,337.64 L160.00,337.75 L160.75,337.71 L161.50,337.83 L162.25,337.75 L163.00,337.77 L163.75,337.87 L164.50,338.31 L165.25,338.50 L166.00,338.79 L166.75,338.85 L167.50,338.74 L168.25,338.45 L169.00,338.49 L169.75,338.72 L170.50,338.93 L171.25,338.89 L172.00,338.91 L172.75,339.17 L173.50,339.18 L174.25,339.35 L175.00,339.28 L175.75,339.35 L176.50,339.32 L177.25,339.55 L178.00,339.71 L178.75,339.79 L179.50,339.90 L180.25,340.06 L181.00,340.37 L181.75,340.43 L182.50,340.45 L183.25,340.30 L184.00,340.44 L184.75,340.63 L185.50,340.70 L186.25,340.62 L187.00,340.69 L187.75,340.89 L188.50,341.17 L189.25,341.18 L190.00,341.15 L190.75,341.05 L191.50,341.17 L192.25,341.27 L193.00,341.39 L193.75,341.32 L194.50,341.38 L195.25,341.30 L196.00,341.25 L196.75,341.20 L197.50,341.21 L198.25,341.24 L199.00,341.17 L199.75,341.15 L200.50,341.10 L201.25,341.04 L202.00,340.81 L202.75,340.64 L203.50,340.41 L204.25,340.24 L205.00,339.99 L205.75,339.62 L206.50,339.11 L207.25,338.54 L208.00,337.98 L208.75,337.38 L209.50,336.66 L210.25,335.93 L211.00,335.27 L211.75,334.75 L212.50,334.28 L213.25,333.66 L214.00,333.20 L214.75,332.78 L215.50,332.62 L216.25,332.43 L217.00,332.22 L217.75,332.09 L218.50,331.98 L219.25,331.98 L220.00,332.05 L220.75,332.10 L221.50,332.32 L222.25,332.47 L223.00,332.67 L223.75,332.89 L224.50,333.24 L225.25,333.64 L226.00,333.98 L226.75,334.40 L227.50,334.87 L228.25,335.35 L229.00,335.78 L229.75,336.23 L230.50,336.79 L231.25,337.27 L232.00,337.71 L232.75,338.11 L233.50,338.61 L234.25,339.00 L235.00,339.43 L235.75,339.61 L236.50,339.94 L237.25,340.11 L238.00,340.41 L238.75,340.65 L239.50,340.84 L240.25,341.03 L241.00,341.10 L241.75,341.28 L242.50,341.42 L243.25,341.53 L244.00,341.61 L244.75,341.73 L245.50,341.95 L246.25,342.01 L247.00,342.04 L247.75,342.03 L248.50,342.19 L249.25,342.33 L250.00,342.48 L250.75,342.49 L251.50,342.53 L252.25,342.53 L253.00,342.72 L253.75,342.72 L254.50,342.83 L255.25,342.90 L256.00,343.05 L256.75,343.05 L257.50,342.94 L258.25,343.05 L259.00,343.16 L259.75,343.26 L260.50,343.25 L261.25,343.25 L262.00,343.32 L262.75,343.29 L263.50,343.36 L264.25,343.35 L265.00,343.40 L265.75,343.35 L266.50,343.34 L267.25,343.26 L268.00,343.25 L268.75,343.17 L269.50,343.26 L270.25,343.27 L271.00,343.29 L271.75,343.21 L272.50,343.28 L273.25,343.28 L274.00,343.29 L274.75,343.07 L275.50,343.06 L276.25,342.99 L277.00,343.11 L277.75,343.05 L278.50,343.16 L279.25,343.13 L280.00,343.14 L280.75,343.06 L281.50,342.95 L282.25,342.90 L283.00,342.73 L283.75,342.79 L284.50,342.79 L285.25,342.79 L286.00,342.72 L286.75,342.61 L287.50,342.57 L288.25,342.53 L289.00,342.52 L289.75,342.48 L290.50,342.39 L291.25,342.37 L292.00,342.37 L292.75,342.35 L293.50,342.26 L294.25,342.12 L295.00,342.13 L295.75,342.17 L296.50,342.20 L297.25,342.03 L298.00,341.95 L298.75,341.76 L299.50,341.61 L300.25,341.54 L301.00,341.44 L301.75,341.34 L302.50,341.09 L303.25,341.02 L304.00,340.88 L304.75,340.74 L305.50,340.51 L306.25,340.42 L307.00,340.37 L307.75,340.29 L308.50,340.22 L309.25,340.11 L310.00,340.21 L310.75,340.29 L311.50,340.41 L312.25,340.50 L313.00,340.69 L313.75,340.77 L314.50,340.92 L315.25,340.90 L316.00,341.06 L316.75,341.06 L317.50,341.19 L318.25,341.26 L319.00,341.39 L319.75,341.47 L320.50,341.43 L321.25,341.43 L322.00,341.47 L322.75,341.54 L323.50,341.64 L324.25,341.73 L325.00,341.83 L325.75,341.77 L326.50,341.75 L327.25,341.72 L328.00,341.78 L328.75,341.79 L329.50,341.76 L330.25,341.74 L331.00,341.77 L331.75,341.87 L332.50,341.90 L333.25,341.90 L334.00,341.84 L334.75,341.79 L335.50,341.71 L336.25,341.66 L337.00,341.66 L337.75,341.65 L338.50,341.65 L339.25,341.52 L340.00,341.47 L340.75,341.37 L341.50,341.36 L342.25,341.25 L343.00,341.20 L343.75,341.20 L344.50,341.06 L345.25,341.01 L346.00,340.83 L346.75,340.87 L347.50,340.69 L348.25,340.66 L349.00,340.43 L349.75,340.33 L350.50,340.23 L351.25,340.11 L352.00,340.08 L352.75,339.90 L353.50,339.78 L354.25,339.57 L355.00,339.33 L355.75,339.19 L356.50,339.00 L357.25,338.77 L358.00,338.53 L358.75,338.26 L359.50,337.99 L360.25,337.70 L361.00,337.42 L361.75,337.13 L362.50,336.64 L363.25,336.09 L364.00,335.69 L364.75,335.30 L365.50,334.85 L366.25,334.26 L367.00,333.69 L367.75,333.17 L368.50,332.52 L369.25,331.80 L370.00,331.01 L370.75,330.19 L371.50,329.37 L372.25,328.52 L373.00,327.63 L373.75,326.71 L374.50,325.71 L375.25,324.75 L376.00,323.68 L376.75,322.76 L377.50,321.79 L378.25,320.91 L379.00,319.82 L379.75,318.79 L380.50,317.65 L381.25,316.55 L382.00,315.29 L382.75,313.99 L383.50,312.58 L384.25,311.13 L385.00,309.79 L385.75,308.36 L386.50,306.91 L387.25,305.40 L388.00,303.97 L388.75,302.58 L389.50,301.21 L390.25,299.87 L391.00,298.55 L391.75,297.39 L392.50,296.39 L393.25,295.56 L394.00,294.96 L394.75,294.51 L395.50,294.37 L396.25,294.37 L397.00,294.78 L397.75,295.36 L398.50,296.14 L399.25,296.99 L400.00,298.02 L400.75,299.13 L401.50,300.39 L402.25,301.72 L403.00,303.13 L403.75,304.59 L404.50,306.04 L405.25,307.65 L406.00,309.28 L406.75,310.98 L407.50,312.60 L408.25,314.19 L409.00,315.72 L409.75,317.34 L410.50,318.89 L411.25,320.39 L412.00,321.89 L412.75,323.34 L413.50,324.69 L414.25,326.00 L415.00,327.30 L415.75,328.61 L416.50,329.79 L417.25,330.83 L418.00,331.82 L418.75,332.68 L419.50,333.53 L420.25,334.22 L421.00,334.88 L421.75,335.46 L422.50,336.04 L423.25,336.49 L424.00,336.96 L424.75,337.42 L425.50,337.88 L426.25,338.32 L427.00,338.70 L427.75,339.16 L428.50,339.47 L429.25,339.91 L430.00,340.15 L430.75,340.47 L431.50,340.66 L432.25,340.85 L433.00,341.01 L433.75,341.14 L434.50,341.30 L435.25,341.48 L436.00,341.65 L436.75,341.87 L437.50,341.95 L438.25,342.08 L439.00,342.23 L439.75,342.45 L440.50,342.62 L441.25,342.71 L442.00,342.71 L442.75,342.75 L443.50,342.75 L444.25,342.91 L445.00,343.02 L445.75,343.07 L446.50,343.18 L447.25,343.25 L448.00,343.44 L448.75,343.43 L449.50,343.33 L450.25,343.31 L451.00,343.29 L451.75,343.36 L452.50,343.39 L453.25,343.50 L454.00,343.58 L454.75,343.56 L455.50,343.62 L456.25,343.70 L457.00,343.68 L457.75,343.68 L458.50,343.66 L459.25,343.71 L460.00,343.71 L460.75,343.76 L461.50,343.85 L462.25,343.88 L463.00,343.92 L463.75,343.98 L464.50,343.99 L465.25,343.99 L466.00,343.91 L466.75,343.92 L467.50,343.94 L468.25,343.90 L469.00,343.90 L469.75,343.89 L470.50,343.99 L471.25,344.00 L472.00,344.03 L472.75,344.03 L473.50,344.07 L474.25,344.09 L475.00,344.09 L475.75,344.11 L476.50,343.99 L477.25,344.02 L478.00,343.89 L478.75,343.95 L479.50,343.87 L480.25,343.88 L481.00,343.96 L481.75,343.93 L482.50,343.97 L483.25,343.92 L484.00,344.02 L484.75,344.03 L485.50,344.07 L486.25,343.97 L487.00,343.99 L487.75,343.89 L488.50,343.96 L489.25,343.97 L490.00,344.02 L490.75,344.06 L491.50,343.99 L492.25,343.97 L493.00,343.92 L493.75,343.95 L494.50,343.92 L495.25,343.92 L496.00,343.89 L496.75,343.95 L497.50,344.00 L498.25,344.06 L499.00,344.05 L499.75,344.00 L500.50,343.95 L501.25,343.90 L502.00,343.88 L502.75,343.96 L503.50,343.98 L504.25,343.99 L505.00,343.93 L505.75,343.95 L506.50,343.97 L507.25,344.00 L508.00,344.03 L508.75,344.05 L509.50,344.04 L510.25,344.02 L511.00,343.94 L511.75,343.94 L512.50,343.99 L513.25,343.98 L514.00,343.92 L514.75,343.91 L515.50,343.99 L516.25,344.02 L517.00,343.97 L517.75,344.00 L518.50,344.00 L519.25,344.00 L520.00,343.93 L520.75,343.93 L521.50,343.96 L522.25,344.00 L523.00,344.02 L523.75,343.96 L524.50,343.93" stroke="#101010"/>
<path d="M52.00,343.95 L52.75,343.93 L53.50,343.89 L54.25,343.97 L55.00,343.99 L55.75,343.99 L56.50,343.99 L57.25,344.02 L58.00,344.06 L58.75,344.03 L59.50,344.04 L60.25,344.11 L61.00,344.04 L61.75,344.01 L62.50,343.88 L63.25,343.97 L64.00,343.97 L64.75,344.04 L65.50,344.00 L66.25,344.05 L67.00,343.91 L67.75,343.76 L68.50,343.48 L69.25,343.28 L70.00,342.77 L70.75,342.44 L71.50,341.75 L72.25,341.45 L73.00,340.84 L73.75,340.61 L74.50,339.85 L75.25,339.35 L76.00,338.80 L76.75,338.58 L77.50,337.79 L78.25,336.94 L79.00,336.31 L79.75,335.72 L80.50,334.95 L81.25,334.09 L82.00,333.54 L82.75,333.49 L83.50,332.74 L84.25,332.10 L85.00,331.61 L85.75,331.52 L86.50,331.68 L87.25,330.74 L88.00,330.33 L88.75,329.30 L89.50,328.62 L90.25,328.16 L91.00,327.45 L91.75,327.33 L92.50,326.82 L93.25,326.30 L94.00,325.68 L94.75,325.18 L95.50,325.10 L96.25,325.24 L97.00,325.23 L97.75,325.31 L98.50,324.60 L99.25,324.29 L100.00,324.26 L100.75,324.51 L101.50,325.03 L102.25,325.51 L103.00,326.43 L103.75,327.04 L104.50,327.82 L105.25,328.48 L106.00,328.93 L106.75,329.33 L107.50,329.93 L108.25,330.40 L109.00,331.16 L109.75,331.92 L110.50,332.52 L111.25,333.00 L112.00,333.21 L112.75,333.56 L113.50,333.27 L114.25,332.74 L115.00,332.35 L115.75,331.48 L116.50,330.93 L117.25,330.36 L118.00,330.20 L118.75,329.39 L119.50,329.28 L120.25,328.96 L121.00,330.01 L121.75,330.13 L122.50,330.22 L123.25,329.79 L124.00,329.59 L124.75,330.01 L125.50,330.37 L126.25,330.33 L127.00,330.21 L127.75,329.88 L128.50,329.82 L129.25,330.08 L130.00,330.18 L130.75,331.01 L131.50,331.05 L132.25,331.13 L133.00,330.55 L133.75,330.33 L134.50,330.32 L135.25,330.79 L136.00,331.49 L136.75,332.10 L137.50,332.48 L138.25,332.72 L139.00,332.76 L139.75,333.10 L140.50,333.80 L141.25,334.65 L142.00,334.37 L142.75,334.12 L143.50,334.33 L144.25,335.29 L145.00,335.71 L145.75,335.82 L146.50,335.97 L147.25,336.73 L148.00,337.26 L148.75,337.49 L149.50,337.20 L150.25,337.09 L151.00,337.02 L151.75,337.29 L152.50,337.45 L153.25,337.83 L154.00,337.80 L154.75,338.05 L155.50,337.86 L156.25,338.28 L157.00,338.18 L157.75,338.48 L158.50,338.20 L159.25,338.56 L160.00,338.88 L160.75,339.21 L161.50,339.05 L162.25,338.91 L163.00,339.28 L163.75,339.49 L164.50,339.64 L165.25,339.36 L166.00,339.35 L166.75,339.47 L167.50,339.57 L168.25,339.88 L169.00,339.83 L169.75,340.17 L170.50,340.05 L171.25,340.30 L172.00,340.08 L172.75,340.22 L173.50,340.11 L174.25,340.18 L175.00,340.10 L175.75,340.16 L176.50,340.17 L177.25,340.32 L178.00,340.43 L178.75,340.57 L179.50,340.57 L180.25,340.71 L181.00,341.03 L181.75,341.18 L182.50,341.27 L183.25,341.19 L184.00,341.30 L184.75,341.36 L185.50,341.45 L186.25,341.42 L187.00,341.42 L187.75,341.44 L188.50,341.50 L189.25,341.73 L190.00,341.86 L190.75,341.99 L191.50,342.02 L192.25,341.99 L193.00,342.00 L193.75,341.86 L194.50,341.91 L195.25,341.85 L196.00,342.01 L196.75,342.00 L197.50,342.02 L198.25,341.95 L199.00,342.04 L199.75,342.05 L200.50,341.98 L201.25,341.86 L202.00,341.79 L202.75,341.72 L203.50,341.49 L204.25,341.24 L205.00,341.07 L205.75,340.85 L206.50,340.51 L207.25,340.03 L208.00,339.51 L208.75,339.14 L209.50,338.67 L210.25,338.36 L211.00,337.89 L211.75,337.57 L212.50,337.16 L213.25,336.89 L214.00,336.51 L214.75,336.14 L215.50,335.91 L216.25,335.79 L217.00,335.68 L217.75,335.59 L218.50,335.51 L219.25,335.51 L220.00,335.47 L220.75,335.56 L221.50,335.79 L222.25,335.96 L223.00,336.07 L223.75,336.16 L224.50,336.39 L225.25,336.70 L226.00,336.93 L226.75,337.20 L227.50,337.46 L228.25,337.82 L229.00,338.13 L229.75,338.48 L230.50,338.84 L231.25,339.28 L232.00,339.64 L232.75,339.95 L233.50,340.14 L234.25,340.38 L235.00,340.64 L235.75,340.89 L236.50,341.08 L237.25,341.27 L238.00,341.46 L238.75,341.69 L239.50,341.81 L240.25,341.89 L241.00,341.93 L241.75,342.02 L242.50,342.17 L243.25,342.27 L244.00,342.42 L244.75,342.54 L245.50,342.66 L246.25,342.66 L247.00,342.66 L247.75,342.60 L248.50,342.68 L249.25,342.81 L250.00,342.92 L250.75,342.96 L251.50,342.95 L252.25,343.00 L253.00,343.02 L253.75,343.09 L254.50,343.11 L255.25,343.13 L256.00,343.14 L256.75,343.17 L257.50,343.27 L258.25,343.27 L259.00,343.33 L259.75,343.36 L260.50,343.43 L261.25,343.46 L262.00,343.47 L262.75,343.50 L263.50,343.44 L264.25,343.41 L265.00,343.38 L265.75,343.43 L266.50,343.47 L267.25,343.46 L268.00,343.48 L268.75,343.47 L269.50,343.53 L270.25,343.46 L271.00,343.40 L271.75,343.32 L272.50,343.31 L273.25,343.44 L274.00,343.46 L274.75,343.45 L275.50,343.33 L276.25,343.38 L277.00,343.39 L277.75,343.36 L278.50,343.30 L279.25,343.34 L280.00,343.37 L280.75,343.44 L281.50,343.36 L282.25,343.35 L283.00,343.22 L283.75,343.21 L284.50,343.16 L285.25,343.06 L286.00,343.05 L286.75,343.03 L287.50,343.15 L288.25,343.11 L289.00,343.15 L289.75,343.00 L290.50,342.95 L291.25,342.87 L292.00,342.83 L292.75,342.85 L293.50,342.80 L294.25,342.84 L295.00,342.81 L295.75,342.78 L296.50,342.74 L297.25,342.67 L298.00,342.65 L298.75,342.62 L299.50,342.48 L300.25,342.33 L301.00,342.17 L301.75,342.09 L302.50,342.02 L303.25,341.87 L304.00,341.83 L304.75,341.68 L305.50,341.60 L306.25,341.49 L307.00,341.43 L307.75,341.42 L308.50,341.33 L309.25,341.33 L310.00,341.40 L310.75,341.54 L311.50,341.54 L312.25,341.55 L313.00,341.55 L313.75,341.70 L314.50,341.68 L315.25,341.72 L316.00,341.73 L316.75,341.87 L317.50,341.98 L318.25,342.01 L319.00,342.07 L319.75,342.19 L320.50,342.23 L321.25,342.21 L322.00,342.22 L322.75,342.30 L323.50,342.34 L324.25,342.31 L325.00,342.27 L325.75,342.27 L326.50,342.32 L327.25,342.41 L328.00,342.43 L328.75,342.37 L329.50,342.39 L330.25,342.38 L331.00,342.46 L331.75,342.42 L332.50,342.53 L333.25,342.48 L334.00,342.42 L334.75,342.27 L335.50,342.30 L336.25,342.46 L337.00,342.48 L337.75,342.37 L338.50,342.21 L339.25,342.18 L340.00,342.24 L340.75,342.23 L341.50,342.25 L342.25,342.20 L343.00,342.16 L343.75,342.00 L344.50,341.88 L345.25,341.83 L346.00,341.83 L346.75,341.82 L347.50,341.74 L348.25,341.65 L349.00,341.59 L349.75,341.48 L350.50,341.43 L351.25,341.24 L352.00,341.20 L352.75,341.08 L353.50,341.05 L354.25,340.89 L355.00,340.84 L355.75,340.70 L356.50,340.61 L357.25,340.44 L358.00,340.26 L358.75,340.04 L359.50,339.81 L360.25,339.62 L361.00,339.41 L361.75,339.16 L362.50,338.81 L363.25,338.47 L364.00,338.08 L364.75,337.75 L365.50,337.35 L366.25,337.02 L367.00,336.63 L367.75,336.26 L368.50,335.81 L369.25,335.29 L370.00,334.74 L370.75,334.12 L371.50,333.52 L372.25,332.85 L373.00,332.27 L373.75,331.59 L374.50,330.97 L375.25,330.26 L376.00,329.60 L376.75,328.89 L377.50,328.14 L378.25,327.44 L379.00,326.72 L379.75,326.00 L380.50,325.17 L381.25,324.33 L382.00,323.45 L382.75,322.59 L383.50,321.72 L384.25,320.73 L385.00,319.76 L385.75,318.68 L386.50,317.72 L387.25,316.61 L388.00,315.63 L388.75,314.64 L389.50,313.82 L390.25,312.87 L391.00,311.99 L391.75,311.13 L392.50,310.46 L393.25,309.81 L394.00,309.33 L394.75,309.00 L395.50,308.95 L396.25,309.03 L397.00,309.26 L397.75,309.62 L398.50,310.08 L399.25,310.73 L400.00,311.36 L400.75,312.23 L401.50,313.11 L402.25,314.10 L403.00,315.06 L403.75,316.05 L404.50,317.11 L405.25,318.14 L406.00,319.28 L406.75,320.39 L407.50,321.55 L408.25,322.67 L409.00,323.85 L409.75,324.93 L410.50,326.14 L411.25,327.22 L412.00,328.34 L412.75,329.25 L413.50,330.22 L414.25,331.14 L415.00,332.04 L415.75,332.87 L416.50,333.76 L417.25,334.55 L418.00,335.24 L418.75,335.87 L419.50,336.44 L420.25,337.07 L421.00,337.50 L421.75,337.97 L422.50,338.28 L423.25,338.71 L424.00,339.03 L424.75,339.43 L425.50,339.72 L426.25,340.01 L427.00,340.17 L427.75,340.42 L428.50,340.66 L429.25,340.90 L430.00,341.08 L430.75,341.33 L431.50,341.56 L432.25,341.76 L433.00,341.84 L433.75,341.97 L434.50,342.18 L435.25,342.35 L436.00,342.42 L436.75,342.42 L437.50,342.54 L438.25,342.72 L439.00,342.86 L439.75,342.96 L440.50,343.14 L441.25,343.18 L442.00,343.23 L442.75,343.19 L443.50,343.30 L444.25,343.32 L445.00,343.36 L445.75,343.31 L446.50,343.35 L447.25,343.35 L448.00,343.45 L448.75,343.42 L449.50,343.47 L450.25,343.58 L451.00,343.58 L451.75,343.55 L452.50,343.47 L453.25,343.63 L454.00,343.66 L454.75,343.70 L455.50,343.69 L456.25,343.78 L457.00,343.77 L457.75,343.78 L458.50,343.78 L459.25,343.88 L460.00,343.85 L460.75,343.89 L461.50,343.86 L462.25,343.91 L463.00,343.80 L463.75,343.86 L464.50,343.85 L465.25,343.91 L466.00,343.86 L466.75,343.93 L467.50,343.97 L468.25,344.00 L469.00,343.91 L469.75,343.93 L470.50,343.89 L471.25,343.87 L472.00,343.88 L472.75,343.99 L473.50,344.05 L474.25,344.01 L475.00,343.92 L475.75,343.97 L476.50,344.02 L477.25,344.14 L478.00,344.13 L478.75,344.06 L479.50,343.89 L480.25,343.82 L481.00,343.87 L481.75,343.97 L482.50,343.92 L483.25,343.86 L484.00,343.84 L484.75,343.94 L485.50,344.02 L486.25,344.03 L487.00,343.94 L487.75,343.92 L488.50,343.93 L489.25,343.99 L490.00,343.99 L490.75,343.94 L491.50,343.99 L492.25,343.98 L493.00,344.05 L493.75,343.97 L494.50,343.97 L495.25,343.98 L496.00,344.03 L496.75,344.04 L497.50,343.95 L498.25,343.91 L499.00,343.90 L499.75,344.00 L500.50,344.08 L501.25,344.16 L502.00,344.15 L502.75,344.07 L503.50,344.01 L504.25,343.94 L505.00,344.00 L505.75,344.01 L506.50,344.06 L507.25,344.06 L508.00,344.14 L508.75,344.16 L509.50,344.09 L510.25,344.07 L511.00,344.00 L511.75,344.00 L512.50,343.94 L513.25,343.96 L514.00,344.00 L514.75,344.00 L515.50,343.95 L516.25,343.90 L517.00,343.86 L517.75,343.91 L518.50,343.96 L519.25,343.99 L520.00,344.05 L520.75,344.08 L521.50,344.09 L522.25,344.11 L523.00,344.07 L523.75,344.08 L524.50,344.01" stroke="#009038"/>
<path d="M52.00,344.02 L52.75,344.04 L53.50,343.95 L54.25,344.03 L55.00,344.03 L55.75,344.19 L56.50,344.10 L57.25,344.03 L58.00,343.89 L58.75,343.93 L59.50,343.94 L60.25,344.05 L61.00,344.02 L61.75,344.02 L62.50,344.05 L63.25,344.05 L64.00,344.10 L64.75,344.03 L65.50,343.99 L66.25,344.01 L67.00,343.92 L67.75,343.82 L68.50,343.62 L69.25,343.32 L70.00,342.81 L70.75,342.21 L71.50,341.66 L72.25,340.94 L73.00,340.21 L73.75,339.31 L74.50,338.58 L75.25,337.83 L76.00,336.85 L76.75,336.21 L77.50,335.43 L78.25,335.27 L79.00,334.69 L79.75,333.93 L80.50,333.04 L81.25,332.20 L82.00,331.48 L82.75,331.06 L83.50,330.55 L84.25,329.99 L85.00,329.11 L85.75,328.52 L86.50,327.77 L87.25,327.17 L88.00,326.04 L88.75,325.55 L89.50,324.68 L90.25,324.68 L91.00,323.95 L91.75,323.21 L92.50,322.23 L93.25,321.52 L94.00,321.09 L94.75,320.64 L95.50,320.37 L96.25,320.24 L97.00,320.05 L97.75,320.14 L98.50,319.84 L99.25,319.92 L100.00,319.51 L100.75,319.91 L101.50,320.19 L102.25,320.93 L103.00,321.51 L103.75,322.06 L104.50,323.22 L105.25,324.03 L106.00,324.98 L106.75,325.64 L107.50,326.60 L108.25,327.11 L109.00,328.22 L109.75,328.93 L110.50,329.88 L111.25,330.12 L112.00,330.66 L112.75,331.05 L113.50,330.70 L114.25,329.57 L115.00,328.42 L115.75,327.60 L116.50,327.04 L117.25,326.76 L118.00,326.00 L118.75,325.81 L119.50,325.37 L120.25,325.38 L121.00,325.56 L121.75,325.66 L122.50,326.26 L123.25,326.32 L124.00,326.55 L124.75,326.50 L125.50,326.34 L126.25,326.73 L127.00,326.94 L127.75,327.31 L128.50,327.64 L129.25,327.48 L130.00,327.34 L130.75,327.08 L131.50,327.09 L132.25,327.11 L133.00,327.40 L133.75,327.71 L134.50,328.17 L135.25,328.54 L136.00,328.94 L136.75,329.54 L137.50,330.34 L138.25,330.69 L139.00,330.81 L139.75,330.24 L140.50,330.81 L141.25,331.13 L142.00,332.15 L142.75,332.78 L143.50,333.46 L144.25,333.62 L145.00,333.75 L145.75,333.81 L146.50,333.95 L147.25,334.50 L148.00,335.09 L148.75,335.24 L149.50,335.02 L150.25,335.38 L151.00,336.04 L151.75,336.13 L152.50,336.28 L153.25,336.13 L154.00,336.91 L154.75,336.94 L155.50,337.42 L156.25,337.21 L157.00,337.13 L157.75,337.05 L158.50,337.09 L159.25,337.24 L160.00,337.21 L160.75,337.44 L161.50,337.99 L162.25,338.53 L163.00,338.58 L163.75,338.38 L164.50,338.18 L165.25,338.45 L166.00,338.70 L166.75,339.15 L167.50,339.35 L168.25,339.41 L169.00,339.39 L169.75,339.54 L170.50,339.47 L171.25,339.50 L172.00,339.41 L172.75,339.63 L173.50,339.73 L174.25,339.95 L175.00,339.97 L175.75,340.11 L176.50,340.20 L177.25,340.27 L178.00,340.31 L178.75,340.27 L179.50,340.63 L180.25,340.60 L181.00,340.81 L181.75,340.84 L182.50,341.10 L183.25,341.20 L184.00,341.26 L184.75,341.28 L185.50,341.19 L186.25,341.23 L187.00,341.35 L187.75,341.52 L188.50,341.57 L189.25,341.74 L190.00,341.70 L190.75,341.88 L191.50,341.90 L192.25,341.94 L193.00,341.90 L193.75,341.97 L194.50,342.11 L195.25,342.00 L196.00,341.97 L196.75,342.08 L197.50,342.22 L198.25,342.22 L199.00,342.21 L199.75,342.20 L200.50,342.31 L201.25,342.21 L202.00,342.17 L202.75,341.99 L203.50,341.96 L204.25,341.80 L205.00,341.63 L205.75,341.35 L206.50,341.22 L207.25,340.96 L208.00,340.67 L208.75,340.26 L209.50,340.00 L210.25,339.74 L211.00,339.51 L211.75,339.20 L212.50,338.94 L213.25,338.60 L214.00,338.32 L214.75,338.15 L215.50,338.04 L216.25,338.01 L217.00,337.97 L217.75,338.02 L218.50,337.99 L219.25,337.85 L220.00,337.78 L220.75,337.78 L221.50,337.89 L222.25,338.06 L223.00,338.20 L223.75,338.37 L224.50,338.40 L225.25,338.55 L226.00,338.81 L226.75,339.15 L227.50,339.38 L228.25,339.55 L229.00,339.80 L229.75,340.13 L230.50,340.39 L231.25,340.64 L232.00,340.81 L232.75,341.06 L233.50,341.23 L234.25,341.36 L235.00,341.56 L235.75,341.76 L236.50,342.00 L237.25,342.20 L238.00,342.25 L238.75,342.32 L239.50,342.33 L240.25,342.46 L241.00,342.58 L241.75,342.73 L242.50,342.81 L243.25,342.88 L244.00,342.84 L244.75,342.87 L245.50,342.88 L246.25,342.93 L247.00,343.06 L247.75,343.17 L248.50,343.21 L249.25,343.18 L250.00,343.18 L250.75,343.21 L251.50,343.26 L252.25,343.28 L253.00,343.28 L253.75,343.26 L254.50,343.33 L255.25,343.42 L256.00,343.46 L256.75,343.51 L257.50,343.51 L258.25,343.52 L259.00,343.57 L259.75,343.57 L260.50,343.62 L261.25,343.56 L262.00,343.61 L262.75,343.59 L263.50,343.66 L264.25,343.78 L265.00,343.81 L265.75,343.75 L266.50,343.71 L267.25,343.70 L268.00,343.65 L268.75,343.64 L269.50,343.45 L270.25,343.48 L271.00,343.48 L271.75,343.62 L272.50,343.64 L273.25,343.53 L274.00,343.58 L274.75,343.54 L275.50,343.62 L276.25,343.55 L277.00,343.50 L277.75,343.44 L278.50,343.38 L279.25,343.44 L280.00,343.39 L280.75,343.46 L281.50,343.44 L282.25,343.46 L283.00,343.47 L283.75,343.48 L284.50,343.49 L285.25,343.34 L286.00,343.28 L286.75,343.28 L287.50,343.37 L288.25,343.36 L289.00,343.34 L289.75,343.26 L290.50,343.28 L291.25,343.25 L292.00,343.21 L292.75,343.22 L293.50,343.06 L294.25,343.11 L295.00,343.07 L295.75,343.12 L296.50,343.02 L297.25,342.87 L298.00,342.84 L298.75,342.87 L299.50,342.87 L300.25,342.81 L301.00,342.66 L301.75,342.53 L302.50,342.42 L303.25,342.33 L304.00,342.38 L304.75,342.36 L305.50,342.30 L306.25,342.18 L307.00,342.13 L307.75,342.18 L308.50,342.15 L309.25,342.18 L310.00,342.24 L310.75,342.24 L311.50,342.23 L312.25,342.22 L313.00,342.36 L313.75,342.43 L314.50,342.50 L315.25,342.42 L316.00,342.46 L316.75,342.53 L317.50,342.64 L318.25,342.60 L319.00,342.58 L319.75,342.62 L320.50,342.74 L321.25,342.81 L322.00,342.77 L322.75,342.84 L323.50,342.79 L324.25,342.80 L325.00,342.72 L325.75,342.76 L326.50,342.83 L327.25,342.88 L328.00,342.87 L328.75,342.84 L329.50,342.84 L330.25,342.85 L331.00,342.89 L331.75,342.93 L332.50,342.89 L333.25,342.85 L334.00,342.78 L334.75,342.75 L335.50,342.77 L336.25,342.81 L337.00,342.86 L337.75,342.77 L338.50,342.78 L339.25,342.77 L340.00,342.74 L340.75,342.72 L341.50,342.64 L342.25,342.57 L343.00,342.46 L343.75,342.48 L344.50,342.53 L345.25,342.54 L346.00,342.46 L346.75,342.36 L347.50,342.22 L348.25,342.26 L349.00,342.27 L349.75,342.24 L350.50,342.10 L351.25,342.11 L352.00,342.05 L352.75,341.94 L353.50,341.77 L354.25,341.70 L355.00,341.60 L355.75,341.56 L356.50,341.46 L357.25,341.36 L358.00,341.04 L358.75,340.92 L359.50,340.75 L360.25,340.67 L361.00,340.44 L361.75,340.25 L362.50,340.07 L363.25,339.96 L364.00,339.75 L364.75,339.58 L365.50,339.18 L366.25,338.90 L367.00,338.57 L367.75,338.31 L368.50,338.03 L369.25,337.64 L370.00,337.31 L370.75,336.84 L371.50,336.44 L372.25,335.86 L373.00,335.38 L373.75,334.92 L374.50,334.44 L375.25,333.87 L376.00,333.38 L376.75,332.84 L377.50,332.44 L378.25,331.90 L379.00,331.45 L379.75,330.92 L380.50,330.27 L381.25,329.63 L382.00,328.92 L382.75,328.38 L383.50,327.70 L384.25,327.05 L385.00,326.22 L385.75,325.59 L386.50,324.79 L387.25,324.17 L388.00,323.43 L388.75,322.73 L389.50,321.93 L390.25,321.16 L391.00,320.55 L391.75,320.03 L392.50,319.52 L393.25,319.13 L394.00,318.83 L394.75,318.65 L395.50,318.50 L396.25,318.51 L397.00,318.64 L397.75,318.99 L398.50,319.33 L399.25,319.73 L400.00,320.19 L400.75,320.84 L401.50,321.51 L402.25,322.14 L403.00,322.73 L403.75,323.48 L404.50,324.28 L405.25,325.13 L406.00,326.03 L406.75,326.74 L407.50,327.60 L408.25,328.40 L409.00,329.36 L409.75,330.11 L410.50,330.84 L411.25,331.62 L412.00,332.38 L412.75,333.16 L413.50,333.77 L414.25,334.50 L415.00,335.18 L415.75,335.84 L416.50,336.50 L417.25,337.08 L418.00,337.67 L418.75,338.13 L419.50,338.55 L420.25,338.92 L421.00,339.17 L421.75,339.44 L422.50,339.76 L423.25,340.12 L424.00,340.37 L424.75,340.66 L425.50,340.88 L426.25,341.19 L427.00,341.41 L427.75,341.57 L428.50,341.76 L429.25,341.89 L430.00,342.00 L430.75,342.02 L431.50,342.18 L432.25,342.39 L433.00,342.59 L433.75,342.70 L434.50,342.70 L435.25,342.71 L436.00,342.72 L436.75,342.90 L437.50,342.98 L438.25,343.06 L439.00,343.08 L439.75,343.15 L440.50,343.16 L441.25,343.21 L442.00,343.29 L442.75,343.43 L443.50,343.41 L444.25,343.41 L445.00,343.50 L445.75,343.59 L446.50,343.60 L447.25,343.60 L448.00,343.69 L448.75,343.71 L449.50,343.68 L450.25,343.70 L451.00,343.76 L451.75,343.75 L452.50,343.75 L453.25,343.80 L454.00,343.83 L454.75,343.81 L455.50,343.72 L456.25,343.68 L457.00,343.67 L457.75,343.79 L458.50,343.88 L459.25,344.00 L460.00,343.99 L460.75,344.00 L461.50,343.94 L462.25,343.92 L463.00,343.87 L463.75,343.93 L464.50,343.95 L465.25,343.99 L466.00,343.94 L466.75,344.00 L467.50,343.95 L468.25,343.90 L469.00,343.79 L469.75,343.89 L470.50,343.97 L471.25,344.07 L472.00,344.01 L472.75,343.91 L473.50,343.82 L474.25,343.88 L475.00,344.00 L475.75,344.04 L476.50,343.97 L477.25,343.89 L478.00,343.87 L478.75,343.94 L479.50,344.03 L480.25,344.01 L481.00,343.96 L481.75,343.91 L482.50,343.96 L483.25,343.88 L484.00,343.86 L484.75,343.83 L485.50,343.91 L486.25,343.84 L487.00,343.90 L487.75,343.86 L488.50,343.94 L489.25,343.92 L490.00,343.96 L490.75,343.98 L491.50,344.00 L492.25,343.98 L493.00,343.97 L493.75,343.99 L494.50,344.01 L495.25,343.94 L496.00,343.92 L496.75,343.98 L497.50,344.08 L498.25,344.07 L499.00,343.97 L499.75,343.97 L500.50,343.93 L501.25,344.00 L502.00,343.99 L502.75,344.06 L503.50,344.00 L504.25,343.99 L505.00,343.92 L505.75,343.88 L506.50,343.90 L507.25,344.00 L508.00,344.16 L508.75,344.10 L509.50,344.09 L510.25,344.04 L511.00,344.09 L511.75,344.00 L512.50,343.95 L513.25,343.89 L514.00,344.02 L514.75,344.08 L515.50,344.11 L516.25,344.04 L517.00,344.00 L517.75,343.93 L518.50,343.90 L519.25,343.88 L520.00,343.95 L520.75,343.99 L521.50,344.04 L522.25,344.04 L523.00,344.09 L523.75,344.10 L524.50,344.09" stroke="#a81818"/>
<path d="M52.00,344.02 L52.75,344.02 L53.50,344.10 L54.25,344.10 L55.00,344.10 L55.75,343.98 L56.50,343.95 L57.25,343.96 L58.00,344.03 L58.75,344.04 L59.50,344.05 L60.25,343.99 L61.00,344.02 L61.75,343.97 L62.50,344.03 L63.25,344.07 L64.00,344.15 L64.75,344.09 L65.50,344.05 L66.25,344.00 L67.00,343.83 L67.75,343.69 L68.50,343.44 L69.25,343.32 L70.00,342.88 L70.75,342.38 L71.50,341.80 L72.25,341.07 L73.00,340.69 L73.75,340.17 L74.50,340.00 L75.25,339.30 L76.00,338.71 L76.75,337.90 L77.50,337.41 L78.25,336.56 L79.00,336.04 L79.75,335.24 L80.50,334.75 L81.25,334.15 L82.00,333.55 L82.75,332.90 L83.50,332.02 L84.25,331.81 L85.00,330.89 L85.75,330.36 L86.50,329.27 L87.25,328.89 L88.00,328.63 L88.75,328.02 L89.50,327.52 L90.25,326.80 L91.00,326.27 L91.75,325.88 L92.50,325.50 L93.25,325.02 L94.00,324.30 L94.75,323.56 L95.50,323.52 L96.25,323.27 L97.00,323.41 L97.75,323.22 L98.50,323.18 L99.25,322.61 L100.00,322.31 L100.75,322.72 L101.50,323.17 L102.25,323.97 L103.00,324.56 L103.75,325.49 L104.50,326.55 L105.25,327.22 L106.00,327.47 L106.75,328.05 L107.50,328.97 L108.25,330.19 L109.00,330.73 L109.75,331.10 L110.50,331.47 L111.25,332.11 L112.00,332.98 L112.75,333.04 L113.50,332.66 L114.25,331.54 L115.00,331.02 L115.75,330.15 L116.50,329.35 L117.25,328.88 L118.00,328.10 L118.75,327.70 L119.50,327.41 L120.25,327.97 L121.00,328.31 L121.75,328.68 L122.50,328.66 L123.25,328.85 L124.00,329.07 L124.75,329.32 L125.50,329.27 L126.25,328.87 L127.00,328.89 L127.75,329.31 L128.50,329.79 L129.25,329.69 L130.00,329.67 L130.75,329.73 L131.50,329.85 L132.25,329.62 L133.00,329.89 L133.75,330.24 L134.50,330.70 L135.25,330.88 L136.00,331.01 L136.75,331.12 L137.50,331.49 L138.25,331.42 L139.00,331.84 L139.75,331.70 L140.50,332.40 L141.25,333.24 L142.00,334.23 L142.75,334.74 L143.50,334.63 L144.25,334.58 L145.00,335.36 L145.75,335.89 L146.50,336.19 L147.25,335.82 L148.00,335.86 L148.75,336.44 L149.50,336.99 L150.25,337.34 L151.00,337.36 L151.75,337.27 L152.50,337.19 L153.25,337.07 L154.00,337.55 L154.75,338.06 L155.50,338.61 L156.25,338.60 L157.00,338.52 L157.75,338.61 L158.50,338.65 L159.25,338.74 L160.00,338.69 L160.75,338.78 L161.50,339.06 L162.25,339.28 L163.00,339.26 L163.75,339.29 L164.50,339.15 L165.25,339.51 L166.00,339.83 L166.75,339.98 L167.50,340.13 L168.25,340.07 L169.00,340.12 L169.75,340.24 L170.50,340.26 L171.25,340.32 L172.00,340.04 L172.75,340.20 L173.50,340.38 L174.25,340.71 L175.00,340.58 L175.75,340.73 L176.50,340.63 L177.25,340.93 L178.00,340.91 L178.75,340.98 L179.50,340.91 L180.25,341.06 L181.00,341.31 L181.75,341.54 L182.50,341.55 L183.25,341.51 L184.00,341.46 L184.75,341.70 L185.50,341.91 L186.25,342.01 L187.00,341.87 L187.75,341.75 L188.50,341.75 L189.25,342.03 L190.00,342.35 L190.75,342.47 L191.50,342.40 L192.25,342.22 L193.00,342.32 L193.75,342.32 L194.50,342.48 L195.25,342.43 L196.00,342.56 L196.75,342.60 L197.50,342.69 L198.25,342.69 L199.00,342.73 L199.75,342.74 L200.50,342.71 L201.25,342.70 L202.00,342.65 L202.75,342.66 L203.50,342.56 L204.25,342.42 L205.00,342.33 L205.75,342.12 L206.50,342.11 L207.25,341.94 L208.00,341.79 L208.75,341.60 L209.50,341.34 L210.25,341.12 L211.00,340.85 L211.75,340.58 L212.50,340.35 L213.25,340.12 L214.00,340.04 L214.75,339.96 L215.50,339.83 L216.25,339.77 L217.00,339.76 L217.75,339.67 L218.50,339.62 L219.25,339.60 L220.00,339.73 L220.75,339.90 L221.50,339.94 L222.25,339.97 L223.00,339.93 L223.75,340.02 L224.50,340.10 L225.25,340.21 L226.00,340.33 L226.75,340.52 L227.50,340.71 L228.25,340.88 L229.00,341.08 L229.75,341.20 L230.50,341.38 L231.25,341.53 L232.00,341.66 L232.75,341.80 L233.50,341.99 L234.25,342.24 L235.00,342.41 L235.75,342.49 L236.50,342.51 L237.25,342.57 L238.00,342.60 L238.75,342.69 L239.50,342.76 L240.25,342.94 L241.00,343.10 L241.75,343.23 L242.50,343.19 L243.25,343.17 L244.00,343.10 L244.75,343.10 L245.50,343.09 L246.25,343.22 L247.00,343.31 L247.75,343.35 L248.50,343.39 L249.25,343.44 L250.00,343.43 L250.75,343.32 L251.50,343.39 L252.25,343.48 L253.00,343.64 L253.75,343.67 L254.50,343.72 L255.25,343.67 L256.00,343.58 L256.75,343.55 L257.50,343.54 L258.25,343.62 L259.00,343.66 L259.75,343.66 L260.50,343.61 L261.25,343.65 L262.00,343.77 L262.75,343.81 L263.50,343.78 L264.25,343.72 L265.00,343.74 L265.75,343.74 L266.50,343.78 L267.25,343.78 L268.00,343.81 L268.75,343.83 L269.50,343.82 L270.25,343.82 L271.00,343.79 L271.75,343.77 L272.50,343.72 L273.25,343.60 L274.00,343.55 L274.75,343.57 L275.50,343.65 L276.25,343.74 L277.00,343.77 L277.75,343.69 L278.50,343.62 L279.25,343.58 L280.00,343.56 L280.75,343.55 L281.50,343.48 L282.25,343.56 L283.00,343.67 L283.75,343.66 L284.50,343.66 L285.25,343.61 L286.00,343.60 L286.75,343.53 L287.50,343.50 L288.25,343.50 L289.00,343.49 L289.75,343.44 L290.50,343.44 L291.25,343.39 L292.00,343.39 L292.75,343.30 L293.50,343.35 L294.25,343.34 L295.00,343.32 L295.75,343.33 L296.50,343.28 L297.25,343.29 L298.00,343.19 L298.75,343.18 L299.50,343.22 L300.25,343.29 L301.00,343.30 L301.75,343.22 L302.50,343.10 L303.25,342.98 L304.00,342.89 L304.75,342.85 L305.50,342.83 L306.25,342.78 L307.00,342.75 L307.75,342.61 L308.50,342.61 L309.25,342.62 L310.00,342.73 L310.75,342.77 L311.50,342.75 L312.25,342.81 L313.00,342.73 L313.75,342.85 L314.50,342.83 L315.25,342.91 L316.00,342.86 L316.75,342.85 L317.50,342.99 L318.25,343.00 L319.00,343.04 L319.75,342.93 L320.50,342.99 L321.25,343.03 L322.00,343.18 L322.75,343.17 L323.50,343.24 L324.25,343.17 L325.00,343.13 L325.75,343.13 L326.50,343.15 L327.25,343.25 L328.00,343.24 L328.75,343.33 L329.50,343.33 L330.25,343.30 L331.00,343.17 L331.75,343.09 L332.50,343.11 L333.25,343.12 L334.00,343.18 L334.75,343.21 L335.50,343.25 L336.25,343.20 L337.00,343.11 L337.75,343.15 L338.50,343.14 L339.25,343.17 L340.00,343.05 L340.75,343.05 L341.50,343.06 L342.25,343.12 L343.00,343.11 L343.75,343.03 L344.50,342.95 L345.25,342.96 L346.00,342.87 L346.75,342.94 L347.50,342.80 L348.25,342.83 L349.00,342.71 L349.75,342.66 L350.50,342.61 L351.25,342.54 L352.00,342.59 L352.75,342.51 L353.50,342.44 L354.25,342.30 L355.00,342.21 L355.75,342.17 L356.50,342.18 L357.25,342.16 L358.00,342.10 L358.75,342.00 L359.50,341.90 L360.25,341.75 L361.00,341.60 L361.75,341.48 L362.50,341.34 L363.25,341.29 L364.00,341.11 L364.75,341.04 L365.50,340.79 L366.25,340.56 L367.00,340.25 L367.75,340.05 L368.50,339.84 L369.25,339.60 L370.00,339.30 L370.75,338.99 L371.50,338.69 L372.25,338.37 L373.00,338.08 L373.75,337.70 L374.50,337.36 L375.25,337.04 L376.00,336.67 L376.75,336.31 L377.50,335.96 L378.25,335.62 L379.00,335.25 L379.75,334.83 L380.50,334.49 L381.25,334.02 L382.00,333.52 L382.75,332.98 L383.50,332.56 L384.25,332.00 L385.00,331.56 L385.75,331.07 L386.50,330.67 L387.25,330.20 L388.00,329.68 L388.75,329.18 L389.50,328.62 L390.25,328.07 L391.00,327.60 L391.75,327.21 L392.50,326.91 L393.25,326.68 L394.00,326.38 L394.75,326.24 L395.50,326.12 L396.25,326.24 L397.00,326.39 L397.75,326.63 L398.50,326.89 L399.25,327.18 L400.00,327.46 L400.75,327.86 L401.50,328.25 L402.25,328.71 L403.00,329.15 L403.75,329.65 L404.50,330.30 L405.25,330.85 L406.00,331.47 L406.75,331.90 L407.50,332.48 L408.25,333.06 L409.00,333.68 L409.75,334.26 L410.50,334.73 L411.25,335.29 L412.00,335.82 L412.75,336.44 L413.50,336.92 L414.25,337.41 L415.00,337.84 L415.75,338.30 L416.50,338.68 L417.25,339.05 L418.00,339.39 L418.75,339.81 L419.50,340.12 L420.25,340.40 L421.00,340.58 L421.75,340.80 L422.50,341.04 L423.25,341.24 L424.00,341.36 L424.75,341.49 L425.50,341.72 L426.25,341.98 L427.00,342.11 L427.75,342.15 L428.50,342.32 L429.25,342.43 L430.00,342.52 L430.75,342.49 L431.50,342.68 L432.25,342.83 L433.00,342.91 L433.75,342.90 L434.50,342.98 L435.25,343.13 L436.00,343.23 L436.75,343.24 L437.50,343.30 L438.25,343.35 L439.00,343.37 L439.75,343.31 L440.50,343.34 L441.25,343.37 L442.00,343.46 L442.75,343.52 L443.50,343.63 L444.25,343.70 L445.00,343.71 L445.75,343.72 L446.50,343.62 L447.25,343.58 L448.00,343.49 L448.75,343.63 L449.50,343.66 L450.25,343.79 L451.00,343.82 L451.75,343.84 L452.50,343.86 L453.25,343.78 L454.00,343.72 L454.75,343.70 L455.50,343.74 L456.25,343.88 L457.00,343.96 L457.75,343.97 L458.50,343.99 L459.25,343.93 L460.00,343.94 L460.75,343.91 L461.50,343.90 L462.25,343.85 L463.00,343.91 L463.75,343.97 L464.50,343.97 L465.25,343.89 L466.00,343.89 L466.75,343.85 L467.50,344.01 L468.25,344.00 L469.00,344.12 L469.75,343.99 L470.50,344.03 L471.25,344.02 L472.00,344.03 L472.75,343.93 L473.50,344.01 L474.25,344.05 L475.00,344.12 L475.75,344.01 L476.50,343.90 L477.25,343.81 L478.00,343.88 L478.75,343.95 L479.50,344.02 L480.25,344.00 L481.00,344.03 L481.75,344.02 L482.50,344.02 L483.25,343.97 L484.00,343.99 L484.75,343.88 L485.50,343.97 L486.25,343.99 L487.00,344.11 L487.75,344.04 L488.50,343.98 L489.25,343.96 L490.00,343.84 L490.75,343.86 L491.50,343.80 L492.25,343.93 L493.00,343.97 L493.75,343.93 L494.50,343.96 L495.25,343.99 L496.00,344.12 L496.75,344.08 L497.50,343.96 L498.25,343.94 L499.00,343.96 L499.75,344.01 L500.50,343.96 L501.25,343.99 L502.00,343.98 L502.75,344.04 L503.50,343.99 L504.25,343.98 L505.00,343.92 L505.75,343.86 L506.50,343.90 L507.25,343.98 L508.00,344.04 L508.75,344.02 L509.50,343.98 L510.25,343.95 L511.00,343.95 L511.75,343.91 L512.50,343.95 L513.25,343.96 L514.00,344.02 L514.75,344.00 L515.50,343.99 L516.25,343.91 L517.00,343.91 L517.75,343.93 L518.50,343.97 L519.25,344.00 L520.00,343.99 L520.75,344.05 L521.50,344.04 L522.25,344.03 L523.00,344.03 L523.75,344.02 L524.50,344.03" stroke="#b828b8"/>
<path d="M52.00,344.02 L52.75,344.07 L53.50,344.07 L54.25,344.00 L55.00,343.94 L55.75,344.02 L56.50,344.10 L57.25,344.09 L58.00,344.06 L58.75,343.97 L59.50,343.95 L60.25,343.94 L61.00,343.97 L61.75,343.99 L62.50,343.94 L63.25,343.97 L64.00,344.00 L64.75,344.03 L65.50,343.94 L66.25,343.90 L67.00,343.77 L67.75,343.68 L68.50,343.50 L69.25,343.24 L70.00,342.92 L70.75,342.62 L71.50,342.26 L72.25,341.89 L73.00,341.47 L73.75,341.16 L74.50,340.84 L75.25,340.30 L76.00,339.85 L76.75,339.27 L77.50,338.86 L78.25,338.43 L79.00,337.70 L79.75,336.97 L80.50,336.47 L81.25,336.17 L82.00,335.90 L82.75,335.24 L83.50,334.65 L84.25,334.05 L85.00,333.64 L85.75,333.03 L86.50,333.03 L87.25,332.65 L88.00,332.16 L88.75,331.42 L89.50,330.71 L90.25,330.24 L91.00,329.40 L91.75,329.29 L92.50,329.30 L93.25,329.43 L94.00,328.95 L94.75,328.38 L95.50,328.43 L96.25,328.14 L97.00,328.17 L97.75,327.39 L98.50,327.46 L99.25,326.93 L100.00,327.12 L100.75,327.15 L101.50,327.58 L102.25,327.92 L103.00,328.62 L103.75,329.16 L104.50,329.97 L105.25,330.36 L106.00,331.23 L106.75,331.77 L107.50,332.38 L108.25,332.84 L109.00,333.88 L109.75,334.11 L110.50,334.53 L111.25,334.60 L112.00,335.12 L112.75,335.38 L113.50,334.80 L114.25,334.04 L115.00,333.34 L115.75,333.44 L116.50,332.83 L117.25,332.55 L118.00,331.52 L118.75,331.74 L119.50,331.69 L120.25,331.93 L121.00,331.83 L121.75,331.84 L122.50,331.88 L123.25,331.97 L124.00,331.89 L124.75,331.66 L125.50,331.52 L126.25,331.76 L127.00,331.98 L127.75,332.49 L128.50,332.58 L129.25,332.50 L130.00,332.67 L130.75,332.96 L131.50,333.71 L132.25,333.04 L133.00,332.89 L133.75,332.55 L134.50,333.14 L135.25,333.47 L136.00,333.99 L136.75,334.23 L137.50,334.64 L138.25,334.60 L139.00,334.59 L139.75,334.21 L140.50,334.80 L141.25,335.51 L142.00,336.48 L142.75,336.96 L143.50,337.42 L144.25,337.55 L145.00,337.26 L145.75,337.02 L146.50,337.40 L147.25,337.68 L148.00,338.15 L148.75,338.13 L149.50,338.24 L150.25,338.21 L151.00,338.25 L151.75,338.52 L152.50,338.77 L153.25,339.00 L154.00,339.06 L154.75,339.23 L155.50,339.30 L156.25,339.48 L157.00,339.37 L157.75,339.68 L158.50,339.85 L159.25,340.12 L160.00,340.10 L160.75,340.44 L161.50,340.41 L162.25,340.31 L163.00,340.35 L163.75,340.74 L164.50,340.86 L165.25,340.93 L166.00,340.85 L166.75,341.10 L167.50,341.06 L168.25,341.12 L169.00,341.31 L169.75,341.52 L170.50,341.69 L171.25,341.67 L172.00,341.56 L172.75,341.50 L173.50,341.41 L174.25,341.45 L175.00,341.60 L175.75,341.76 L176.50,341.98 L177.25,342.10 L178.00,342.27 L178.75,342.37 L179.50,342.31 L180.25,342.39 L181.00,342.44 L181.75,342.64 L182.50,342.50 L183.25,342.36 L184.00,342.32 L184.75,342.44 L185.50,342.71 L186.25,342.84 L187.00,342.92 L187.75,342.91 L188.50,342.99 L189.25,343.10 L190.00,343.03 L190.75,342.89 L191.50,342.96 L192.25,342.97 L193.00,343.17 L193.75,343.15 L194.50,343.27 L195.25,343.26 L196.00,343.21 L196.75,343.20 L197.50,343.22 L198.25,343.29 L199.00,343.39 L199.75,343.40 L200.50,343.41 L201.25,343.38 L202.00,343.33 L202.75,343.48 L203.50,343.57 L204.25,343.69 L205.00,343.66 L205.75,343.64 L206.50,343.57 L207.25,343.54 L208.00,343.56 L208.75,343.64 L209.50,343.63 L210.25,343.62 L211.00,343.57 L211.75,343.62 L212.50,343.56 L213.25,343.56 L214.00,343.57 L214.75,343.59 L215.50,343.61 L216.25,343.55 L217.00,343.50 L217.75,343.49 L218.50,343.55 L219.25,343.60 L220.00,343.63 L220.75,343.59 L221.50,343.54 L222.25,343.48 L223.00,343.43 L223.75,343.51 L224.50,343.63 L225.25,343.72 L226.00,343.71 L226.75,343.68 L227.50,343.71 L228.25,343.73 L229.00,343.68 L229.75,343.66 L230.50,343.67 L231.25,343.65 L232.00,343.68 L232.75,343.68 L233.50,343.84 L234.25,343.86 L235.00,343.92 L235.75,343.83 L236.50,343.80 L237.25,343.82 L238.00,343.85 L238.75,343.81 L239.50,343.74 L240.25,343.80 L241.00,343.84 L241.75,343.93 L242.50,343.87 L243.25,343.86 L244.00,343.89 L244.75,343.83 L245.50,343.96 L246.25,343.91 L247.00,344.07 L247.75,344.01 L248.50,343.96 L249.25,343.84 L250.00,343.75 L250.75,343.83 L251.50,343.92 L252.25,344.04 L253.00,343.91 L253.75,343.83 L254.50,343.83 L255.25,343.95 L256.00,344.00 L256.75,343.92 L257.50,343.95 L258.25,344.02 L259.00,344.09 L259.75,344.04 L260.50,343.97 L261.25,343.97 L262.00,344.04 L262.75,344.00 L263.50,343.95 L264.25,343.94 L265.00,344.01 L265.75,343.96 L266.50,343.94 L267.25,343.86 L268.00,343.94 L268.75,343.93 L269.50,344.00 L270.25,343.97 L271.00,343.95 L271.75,343.96 L272.50,343.92 L273.25,343.95 L274.00,343.94 L274.75,343.96 L275.50,343.97 L276.25,343.96 L277.00,343.99 L277.75,343.92 L278.50,343.98 L279.25,344.03 L280.00,344.16 L280.75,344.07 L281.50,344.02 L282.25,343.90 L283.00,343.91 L283.75,343.95 L284.50,343.94 L285.25,344.00 L286.00,344.01 L286.75,344.04 L287.50,343.96 L288.25,343.97 L289.00,343.84 L289.75,343.91 L290.50,343.92 L291.25,344.03 L292.00,344.03 L292.75,343.94 L293.50,343.91 L294.25,343.92 L295.00,343.92 L295.75,343.98 L296.50,343.92 L297.25,343.96 L298.00,343.94 L298.75,343.93 L299.50,343.85 L300.25,343.86 L301.00,343.84 L301.75,343.82 L302.50,343.83 L303.25,343.81 L304.00,343.88 L304.75,343.83 L305.50,343.85 L306.25,343.84 L307.00,343.80 L307.75,343.76 L308.50,343.74 L309.25,343.80 L310.00,343.85 L310.75,343.84 L311.50,343.82 L312.25,343.88 L313.00,343.88 L313.75,343.88 L314.50,343.84 L315.25,343.91 L316.00,344.00 L316.75,343.97 L317.50,343.97 L318.25,343.93 L319.00,343.84 L319.75,343.87 L320.50,343.94 L321.25,344.01 L322.00,344.03 L322.75,343.98 L323.50,344.01 L324.25,343.98 L325.00,343.91 L325.75,343.91 L326.50,343.87 L327.25,343.94 L328.00,343.99 L328.75,344.00 L329.50,343.90 L330.25,343.86 L331.00,343.83 L331.75,343.89 L332.50,343.92 L333.25,343.91 L334.00,343.95 L334.75,343.99 L335.50,344.09 L336.25,344.04 L337.00,343.89 L337.75,343.79 L338.50,343.77 L339.25,343.89 L340.00,344.03 L340.75,344.00 L341.50,343.91 L342.25,343.86 L343.00,343.92 L343.75,343.95 L344.50,343.89 L345.25,343.94 L346.00,343.92 L346.75,343.88 L347.50,343.89 L348.25,343.89 L349.00,343.97 L349.75,343.88 L350.50,343.90 L351.25,343.80 L352.00,343.80 L352.75,343.85 L353.50,343.93 L354.25,343.94 L355.00,343.84 L355.75,343.74 L356.50,343.78 L357.25,343.80 L358.00,343.75 L358.75,343.68 L359.50,343.70 L360.25,343.86 L361.00,343.83 L361.75,343.74 L362.50,343.68 L363.25,343.65 L364.00,343.62 L364.75,343.52 L365.50,343.50 L366.25,343.53 L367.00,343.60 L367.75,343.56 L368.50,343.58 L369.25,343.46 L370.00,343.44 L370.75,343.36 L371.50,343.46 L372.25,343.48 L373.00,343.49 L373.75,343.42 L374.50,343.33 L375.25,343.14 L376.00,343.10 L376.75,343.12 L377.50,343.08 L378.25,343.00 L379.00,342.91 L379.75,342.98 L380.50,342.87 L381.25,342.84 L382.00,342.73 L382.75,342.70 L383.50,342.59 L384.25,342.55 L385.00,342.55 L385.75,342.53 L386.50,342.50 L387.25,342.49 L388.00,342.47 L388.75,342.48 L389.50,342.36 L390.25,342.30 L391.00,342.21 L391.75,342.23 L392.50,342.15 L393.25,342.09 L394.00,341.96 L394.75,342.01 L395.50,342.04 L396.25,342.11 L397.00,342.06 L397.75,342.08 L398.50,342.06 L399.25,342.16 L400.00,342.15 L400.75,342.21 L401.50,342.22 L402.25,342.29 L403.00,342.36 L403.75,342.37 L404.50,342.38 L405.25,342.41 L406.00,342.50 L406.75,342.63 L407.50,342.75 L408.25,342.83 L409.00,342.88 L409.75,342.94 L410.50,343.04 L411.25,343.14 L412.00,343.15 L412.75,343.19 L413.50,343.21 L414.25,343.31 L415.00,343.32 L415.75,343.38 L416.50,343.37 L417.25,343.42 L418.00,343.50 L418.75,343.58 L419.50,343.66 L420.25,343.66 L421.00,343.66 L421.75,343.69 L422.50,343.68 L423.25,343.74 L424.00,343.67 L424.75,343.71 L425.50,343.69 L426.25,343.74 L427.00,343.71 L427.75,343.75 L428.50,343.80 L429.25,343.85 L430.00,343.87 L430.75,343.79 L431.50,343.83 L432.25,343.91 L433.00,343.93 L433.75,343.94 L434.50,343.95 L435.25,344.04 L436.00,344.06 L436.75,344.01 L437.50,343.89 L438.25,343.88 L439.00,343.84 L439.75,343.92 L440.50,343.93 L441.25,344.03 L442.00,343.98 L442.75,343.98 L443.50,343.95 L444.25,344.00 L445.00,344.02 L445.75,344.01 L446.50,344.00 L447.25,343.98 L448.00,343.96 L448.75,344.01 L449.50,343.94 L450.25,344.01 L451.00,344.11 L451.75,344.16 L452.50,344.11 L453.25,343.89 L454.00,343.89 L454.75,343.88 L455.50,343.96 L456.25,343.95 L457.00,343.93 L457.75,344.00 L458.50,344.03 L459.25,343.99 L460.00,344.01 L460.75,344.01 L461.50,344.05 L462.25,343.98 L463.00,343.96 L463.75,343.95 L464.50,343.95 L465.25,343.95 L466.00,344.00 L466.75,344.01 L467.50,344.04 L468.25,344.03 L469.00,344.00 L469.75,343.96 L470.50,343.98 L471.25,344.10 L472.00,344.16 L472.75,344.10 L473.50,344.01 L474.25,343.98 L475.00,343.91 L475.75,343.94 L476.50,343.98 L477.25,344.06 L478.00,344.02 L478.75,343.96 L479.50,343.94 L480.25,343.93 L481.00,343.90 L481.75,343.85 L482.50,343.92 L483.25,343.95 L484.00,344.00 L484.75,343.97 L485.50,343.91 L486.25,343.90 L487.00,343.89 L487.75,344.01 L488.50,344.04 L489.25,344.03 L490.00,343.98 L490.75,344.01 L491.50,344.00 L492.25,344.01 L493.00,343.93 L493.75,343.93 L494.50,343.89 L495.25,343.96 L496.00,344.01 L496.75,344.02 L497.50,343.86 L498.25,343.81 L499.00,343.82 L499.75,343.95 L500.50,343.89 L501.25,343.90 L502.00,343.89 L502.75,343.95 L503.50,343.98 L504.25,343.95 L505.00,343.96 L505.75,343.95 L506.50,344.03 L507.25,344.08 L508.00,344.09 L508.75,344.13 L509.50,344.12 L510.25,344.11 L511.00,344.02 L511.75,343.90 L512.50,343.98 L513.25,343.99 L514.00,344.09 L514.75,344.00 L515.50,344.01 L516.25,344.02 L517.00,344.03 L517.75,344.03 L518.50,343.91 L519.25,343.94 L520.00,343.91 L520.75,343.95 L521.50,343.92 L522.25,343.95 L523.00,343.99 L523.75,344.01 L524.50,344.01" stroke="#a8a000"/>
<path d="M52.00,344.03 L52.75,343.96 L53.50,343.87 L54.25,343.91 L55.00,343.94 L55.75,343.99 L56.50,343.97 L57.25,344.01 L58.00,343.98 L58.75,344.01 L59.50,344.03 L60.25,344.02 L61.00,344.05 L61.75,344.03 L62.50,344.07 L63.25,344.00 L64.00,343.99 L64.75,343.93 L65.50,343.88 L66.25,343.85 L67.00,343.79 L67.75,343.69 L68.50,343.53 L69.25,343.22 L70.00,342.75 L70.75,342.38 L71.50,341.90 L72.25,341.39 L73.00,340.70 L73.75,340.46 L74.50,340.10 L75.25,339.77 L76.00,338.89 L76.75,338.44 L77.50,337.78 L78.25,337.60 L79.00,337.07 L79.75,336.49 L80.50,336.07 L81.25,335.66 L82.00,335.36 L82.75,334.34 L83.50,333.65 L84.25,333.02 L85.00,332.49 L85.75,331.98 L86.50,331.42 L87.25,331.22 L88.00,330.52 L88.75,329.98 L89.50,329.78 L90.25,329.69 L91.00,329.32 L91.75,329.01 L92.50,328.28 L93.25,327.56 L94.00,326.84 L94.75,326.42 L95.50,326.36 L96.25,326.07 L97.00,326.42 L97.75,326.05 L98.50,325.67 L99.25,325.21 L100.00,325.22 L100.75,325.48 L101.50,326.02 L102.25,326.69 L103.00,327.26 L103.75,328.06 L104.50,328.84 L105.25,329.48 L106.00,329.55 L106.75,329.94 L107.50,330.61 L108.25,331.36 L109.00,332.44 L109.75,333.07 L110.50,333.78 L111.25,333.87 L112.00,334.04 L112.75,334.19 L113.50,334.43 L114.25,333.94 L115.00,332.99 L115.75,331.91 L116.50,331.65 L117.25,331.34 L118.00,331.16 L118.75,330.62 L119.50,330.69 L120.25,330.44 L121.00,330.91 L121.75,330.84 L122.50,331.09 L123.25,330.40 L124.00,330.81 L124.75,331.23 L125.50,331.63 L126.25,331.71 L127.00,331.45 L127.75,332.10 L128.50,331.86 L129.25,331.90 L130.00,331.36 L130.75,331.54 L131.50,331.84 L132.25,331.77 L133.00,331.60 L133.75,331.22 L134.50,331.82 L135.25,332.33 L136.00,332.80 L136.75,333.06 L137.50,333.35 L138.25,333.71 L139.00,333.70 L139.75,334.38 L140.50,334.40 L141.25,334.91 L142.00,334.85 L142.75,335.61 L143.50,335.73 L144.25,335.90 L145.00,336.04 L145.75,336.32 L146.50,336.82 L147.25,336.91 L148.00,337.48 L148.75,337.64 L149.50,337.65 L150.25,337.79 L151.00,338.03 L151.75,338.52 L152.50,338.52 L153.25,338.44 L154.00,338.52 L154.75,338.66 L155.50,338.85 L156.25,338.59 L157.00,338.94 L157.75,339.01 L158.50,339.35 L159.25,339.36 L160.00,339.42 L160.75,339.56 L161.50,339.89 L162.25,339.82 L163.00,339.87 L163.75,339.58 L164.50,340.02 L165.25,340.26 L166.00,340.49 L166.75,340.57 L167.50,340.52 L168.25,340.76 L169.00,341.01 L169.75,341.27 L170.50,341.04 L171.25,340.99 L172.00,340.93 L172.75,341.15 L173.50,341.13 L174.25,341.28 L175.00,341.25 L175.75,341.26 L176.50,341.34 L177.25,341.54 L178.00,341.78 L178.75,341.73 L179.50,341.69 L180.25,341.56 L181.00,341.79 L181.75,341.84 L182.50,341.91 L183.25,341.83 L184.00,341.95 L184.75,341.98 L185.50,342.23 L186.25,342.30 L187.00,342.52 L187.75,342.58 L188.50,342.61 L189.25,342.53 L190.00,342.55 L190.75,342.64 L191.50,342.79 L192.25,342.82 L193.00,342.78 L193.75,342.72 L194.50,342.81 L195.25,342.87 L196.00,342.94 L196.75,342.92 L197.50,343.07 L198.25,343.13 L199.00,343.19 L199.75,343.09 L200.50,343.07 L201.25,342.94 L202.00,342.98 L202.75,342.99 L203.50,343.06 L204.25,342.99 L205.00,342.98 L205.75,342.93 L206.50,342.93 L207.25,342.82 L208.00,342.70 L208.75,342.46 L209.50,342.33 L210.25,342.22 L211.00,342.14 L211.75,342.01 L212.50,341.93 L213.25,341.89 L214.00,341.87 L214.75,341.80 L215.50,341.76 L216.25,341.71 L217.00,341.70 L217.75,341.67 L218.50,341.67 L219.25,341.72 L220.00,341.77 L220.75,341.72 L221.50,341.66 L222.25,341.65 L223.00,341.73 L223.75,341.82 L224.50,341.96 L225.25,342.10 L226.00,342.14 L226.75,342.17 L227.50,342.20 L228.25,342.32 L229.00,342.31 L229.75,342.45 L230.50,342.47 L231.25,342.67 L232.00,342.68 L232.75,342.74 L233.50,342.73 L234.25,342.80 L235.00,342.92 L235.75,343.12 L236.50,343.30 L237.25,343.36 L238.00,343.31 L238.75,343.35 L239.50,343.35 L240.25,343.42 L241.00,343.45 L241.75,343.52 L242.50,343.45 L243.25,343.46 L244.00,343.48 L244.75,343.57 L245.50,343.58 L246.25,343.57 L247.00,343.54 L247.75,343.51 L248.50,343.51 L249.25,343.57 L250.00,343.58 L250.75,343.70 L251.50,343.67 L252.25,343.72 L253.00,343.76 L253.75,343.82 L254.50,343.89 L255.25,343.87 L256.00,343.85 L256.75,343.77 L257.50,343.78 L258.25,343.92 L259.00,343.93 L259.75,343.95 L260.50,343.84 L261.25,343.84 L262.00,343.78 L262.75,343.73 L263.50,343.73 L264.25,343.76 L265.00,343.86 L265.75,343.90 L266.50,343.88 L267.25,343.91 L268.00,343.92 L268.75,343.94 L269.50,343.94 L270.25,343.98 L271.00,343.97 L271.75,343.96 L272.50,343.85 L273.25,343.84 L274.00,343.77 L274.75,343.84 L275.50,343.90 L276.25,343.90 L277.00,343.85 L277.75,343.76 L278.50,343.88 L279.25,343.86 L280.00,343.87 L280.75,343.78 L281.50,343.78 L282.25,343.82 L283.00,343.81 L283.75,343.88 L284.50,343.82 L285.25,343.79 L286.00,343.73 L286.75,343.77 L287.50,343.75 L288.25,343.67 L289.00,343.59 L289.75,343.58 L290.50,343.67 L291.25,343.70 L292.00,343.76 L292.75,343.66 L293.50,343.64 L294.25,343.59 L295.00,343.65 L295.75,343.70 L296.50,343.66 L297.25,343.67 L298.00,343.63 L298.75,343.65 L299.50,343.67 L300.25,343.64 L301.00,343.60 L301.75,343.53 L302.50,343.55 L303.25,343.52 L304.00,343.48 L304.75,343.43 L305.50,343.42 L306.25,343.39 L307.00,343.38 L307.75,343.32 L308.50,343.29 L309.25,343.22 L310.00,343.30 L310.75,343.34 L311.50,343.37 L312.25,343.35 L313.00,343.37 L313.75,343.42 L314.50,343.41 L315.25,343.36 L316.00,343.29 L316.75,343.34 L317.50,343.37 L318.25,343.41 L319.00,343.40 L319.75,343.44 L320.50,343.48 L321.25,343.47 L322.00,343.45 L322.75,343.49 L323.50,343.55 L324.25,343.62 L325.00,343.59 L325.75,343.60 L326.50,343.56 L327.25,343.52 L328.00,343.52 L328.75,343.49 L329.50,343.54 L330.25,343.53 L331.00,343.58 L331.75,343.59 L332.50,343.56 L333.25,343.48 L334.00,343.46 L334.75,343.50 L335.50,343.52 L336.25,343.49 L337.00,343.49 L337.75,343.50 L338.50,343.53 L339.25,343.48 L340.00,343.47 L340.75,343.47 L341.50,343.48 L342.25,343.48 L343.00,343.50 L343.75,343.49 L344.50,343.57 L345.25,343.49 L346.00,343.46 L346.75,343.41 L347.50,343.43 L348.25,343.47 L349.00,343.42 L349.75,343.40 L350.50,343.31 L351.25,343.24 L352.00,343.20 L352.75,343.22 L353.50,343.18 L354.25,343.15 L355.00,343.03 L355.75,343.03 L356.50,342.91 L357.25,342.93 L358.00,342.97 L358.75,342.98 L359.50,342.90 L360.25,342.70 L361.00,342.65 L361.75,342.56 L362.50,342.61 L363.25,342.51 L364.00,342.40 L364.75,342.21 L365.50,342.08 L366.25,342.01 L367.00,341.92 L367.75,341.77 L368.50,341.65 L369.25,341.53 L370.00,341.41 L370.75,341.23 L371.50,341.12 L372.25,340.95 L373.00,340.80 L373.75,340.55 L374.50,340.38 L375.25,340.13 L376.00,339.91 L376.75,339.69 L377.50,339.42 L378.25,339.22 L379.00,338.98 L379.75,338.87 L380.50,338.66 L381.25,338.44 L382.00,338.24 L382.75,338.07 L383.50,337.76 L384.25,337.54 L385.00,337.26 L385.75,337.07 L386.50,336.76 L387.25,336.42 L388.00,336.07 L388.75,335.74 L389.50,335.56 L390.25,335.40 L391.00,335.19 L391.75,334.90 L392.50,334.76 L393.25,334.64 L394.00,334.47 L394.75,334.31 L395.50,334.28 L396.25,334.40 L397.00,334.42 L397.75,334.40 L398.50,334.51 L399.25,334.67 L400.00,334.96 L400.75,335.18 L401.50,335.52 L402.25,335.76 L403.00,335.98 L403.75,336.22 L404.50,336.51 L405.25,336.79 L406.00,336.96 L406.75,337.29 L407.50,337.66 L408.25,338.12 L409.00,338.40 L409.75,338.65 L410.50,338.92 L411.25,339.20 L412.00,339.52 L412.75,339.80 L413.50,340.14 L414.25,340.41 L415.00,340.65 L415.75,340.88 L416.50,341.16 L417.25,341.43 L418.00,341.58 L418.75,341.74 L419.50,341.79 L420.25,342.03 L421.00,342.15 L421.75,342.35 L422.50,342.46 L423.25,342.63 L424.00,342.76 L424.75,342.75 L425.50,342.81 L426.25,342.85 L427.00,342.96 L427.75,342.98 L428.50,343.16 L429.25,343.26 L430.00,343.43 L430.75,343.37 L431.50,343.37 L432.25,343.29 L433.00,343.32 L433.75,343.34 L434.50,343.37 L435.25,343.42 L436.00,343.47 L436.75,343.57 L437.50,343.61 L438.25,343.71 L439.00,343.73 L439.75,343.75 L440.50,343.67 L441.25,343.68 L442.00,343.67 L442.75,343.74 L443.50,343.70 L444.25,343.71 L445.00,343.74 L445.75,343.77 L446.50,343.79 L447.25,343.79 L448.00,343.77 L448.75,343.79 L449.50,343.82 L450.25,343.99 L451.00,344.06 L451.75,344.00 L452.50,344.06 L453.25,343.96 L454.00,344.05 L454.75,343.97 L455.50,343.98 L456.25,344.01 L457.00,343.99 L457.75,344.07 L458.50,344.02 L459.25,343.95 L460.00,343.85 L460.75,343.91 L461.50,344.00 L462.25,343.98 L463.00,343.88 L463.75,343.76 L464.50,343.79 L465.25,343.82 L466.00,343.93 L466.75,343.97 L467.50,343.96 L468.25,343.87 L469.00,343.89 L469.75,343.81 L470.50,343.94 L471.25,344.02 L472.00,344.14 L472.75,344.13 L473.50,344.05 L474.25,344.06 L475.00,343.97 L475.75,343.96 L476.50,343.92 L477.25,343.99 L478.00,344.00 L478.75,344.03 L479.50,344.05 L480.25,344.04 L481.00,344.10 L481.75,344.08 L482.50,344.12 L483.25,343.99 L484.00,343.99 L484.75,344.03 L485.50,344.09 L486.25,344.06 L487.00,343.97 L487.75,343.93 L488.50,343.91 L489.25,343.91 L490.00,343.89 L490.75,343.94 L491.50,343.93 L492.25,343.98 L493.00,343.95 L493.75,343.95 L494.50,343.97 L495.25,344.00 L496.00,344.02 L496.75,344.10 L497.50,344.07 L498.25,344.04 L499.00,343.95 L499.75,343.98 L500.50,344.03 L501.25,343.98 L502.00,343.98 L502.75,343.93 L503.50,344.04 L504.25,344.04 L505.00,344.02 L505.75,343.99 L506.50,344.02 L507.25,344.07 L508.00,344.07 L508.75,344.01 L509.50,344.00 L510.25,344.00 L511.00,343.98 L511.75,344.01 L512.50,343.99 L513.25,344.02 L514.00,344.07 L514.75,344.10 L515.50,344.12 L516.25,344.03 L517.00,344.03 L517.75,344.05 L518.50,344.07 L519.25,344.01 L520.00,343.96 L520.75,343.98 L521.50,344.07 L522.25,344.06 L523.00,344.00 L523.75,343.95 L524.50,343.97" stroke="#2848d8"/>
<path d="M52.00,344.03 L52.75,344.05 L53.50,344.06 L54.25,344.03 L55.00,343.98 L55.75,343.98 L56.50,343.99 L57.25,344.04 L58.00,344.02 L58.75,344.05 L59.50,344.01 L60.25,344.04 L61.00,344.05 L61.75,344.11 L62.50,344.11 L63.25,343.96 L64.00,343.93 L64.75,343.96 L65.50,344.02 L66.25,344.05 L67.00,343.96 L67.75,343.82 L68.50,343.52 L69.25,343.00 L70.00,342.56 L70.75,342.19 L71.50,341.84 L72.25,341.27 L73.00,340.51 L73.75,340.03 L74.50,339.39 L75.25,339.02 L76.00,338.45 L76.75,337.98 L77.50,337.30 L78.25,336.73 L79.00,336.45 L79.75,335.89 L80.50,334.89 L81.25,334.33 L82.00,333.50 L82.75,333.16 L83.50,332.52 L84.25,332.00 L85.00,330.97 L85.75,330.25 L86.50,329.86 L87.25,329.48 L88.00,328.63 L88.75,328.14 L89.50,327.72 L90.25,327.55 L91.00,327.31 L91.75,326.64 L92.50,326.13 L93.25,325.12 L94.00,324.86 L94.75,324.06 L95.50,323.97 L96.25,323.58 L97.00,324.08 L97.75,324.15 L98.50,324.08 L99.25,322.95 L100.00,322.48 L100.75,322.71 L101.50,324.14 L102.25,325.17 L103.00,325.50 L103.75,325.80 L104.50,326.18 L105.25,327.53 L106.00,328.08 L106.75,328.71 L107.50,328.97 L108.25,329.97 L109.00,331.12 L109.75,331.74 L110.50,332.33 L111.25,332.96 L112.00,333.56 L112.75,333.76 L113.50,333.28 L114.25,332.59 L115.00,331.69 L115.75,330.95 L116.50,330.21 L117.25,329.49 L118.00,328.72 L118.75,328.24 L119.50,328.17 L120.25,328.38 L121.00,328.75 L121.75,329.40 L122.50,329.79 L123.25,330.04 L124.00,330.01 L124.75,329.32 L125.50,328.81 L126.25,328.89 L127.00,329.37 L127.75,329.93 L128.50,329.77 L129.25,329.88 L130.00,329.70 L130.75,330.03 L131.50,330.31 L132.25,330.61 L133.00,330.30 L133.75,330.33 L134.50,330.57 L135.25,331.14 L136.00,331.29 L136.75,331.49 L137.50,331.44 L138.25,331.52 L139.00,331.78 L139.75,332.58 L140.50,333.58 L141.25,334.12 L142.00,334.29 L142.75,334.42 L143.50,334.70 L144.25,335.07 L145.00,335.11 L145.75,335.48 L146.50,335.54 L147.25,336.03 L148.00,336.34 L148.75,336.78 L149.50,337.13 L150.25,337.25 L151.00,337.83 L151.75,337.90 L152.50,337.92 L153.25,337.54 L154.00,337.80 L154.75,338.25 L155.50,338.37 L156.25,338.59 L157.00,338.57 L157.75,338.92 L158.50,338.80 L159.25,338.78 L160.00,338.67 L160.75,339.10 L161.50,339.38 L162.25,339.94 L163.00,339.90 L163.75,340.16 L164.50,340.05 L165.25,340.14 L166.00,340.04 L166.75,340.05 L167.50,340.08 L168.25,340.13 L169.00,340.18 L169.75,340.31 L170.50,340.48 L171.25,340.77 L172.00,340.93 L172.75,340.94 L173.50,340.80 L174.25,340.78 L175.00,341.07 L175.75,341.36 L176.50,341.43 L177.25,341.37 L178.00,341.46 L178.75,341.55 L179.50,341.63 L180.25,341.75 L181.00,341.92 L181.75,341.95 L182.50,341.98 L183.25,341.99 L184.00,342.02 L184.75,341.96 L185.50,341.96 L186.25,342.20 L187.00,342.38 L187.75,342.49 L188.50,342.47 L189.25,342.43 L190.00,342.44 L190.75,342.42 L191.50,342.44 L192.25,342.54 L193.00,342.72 L193.75,342.80 L194.50,342.83 L195.25,342.80 L196.00,342.92 L196.75,342.98 L197.50,342.90 L198.25,343.01 L199.00,342.99 L199.75,343.12 L200.50,343.01 L201.25,343.08 L202.00,343.11 L202.75,343.17 L203.50,343.16 L204.25,343.17 L205.00,343.05 L205.75,342.95 L206.50,342.86 L207.25,342.86 L208.00,342.87 L208.75,342.88 L209.50,342.80 L210.25,342.72 L211.00,342.60 L211.75,342.58 L212.50,342.50 L213.25,342.44 L214.00,342.29 L214.75,342.17 L215.50,342.11 L216.25,342.12 L217.00,342.16 L217.75,342.13 L218.50,342.17 L219.25,342.15 L220.00,342.23 L220.75,342.33 L221.50,342.29 L222.25,342.25 L223.00,342.18 L223.75,342.27 L224.50,342.32 L225.25,342.34 L226.00,342.46 L226.75,342.56 L227.50,342.61 L228.25,342.63 L229.00,342.71 L229.75,342.89 L230.50,342.91 L231.25,342.91 L232.00,342.91 L232.75,343.10 L233.50,343.24 L234.25,343.36 L235.00,343.44 L235.75,343.48 L236.50,343.50 L237.25,343.38 L238.00,343.44 L238.75,343.42 L239.50,343.53 L240.25,343.47 L241.00,343.53 L241.75,343.53 L242.50,343.59 L243.25,343.57 L244.00,343.59 L244.75,343.64 L245.50,343.71 L246.25,343.68 L247.00,343.58 L247.75,343.62 L248.50,343.69 L249.25,343.70 L250.00,343.66 L250.75,343.71 L251.50,343.76 L252.25,343.78 L253.00,343.83 L253.75,343.84 L254.50,343.85 L255.25,343.76 L256.00,343.72 L256.75,343.66 L257.50,343.63 L258.25,343.64 L259.00,343.76 L259.75,343.87 L260.50,343.93 L261.25,343.90 L262.00,343.84 L262.75,343.88 L263.50,343.86 L264.25,343.82 L265.00,343.81 L265.75,343.83 L266.50,343.92 L267.25,344.00 L268.00,344.00 L268.75,343.99 L269.50,343.89 L270.25,343.91 L271.00,343.84 L271.75,343.81 L272.50,343.70 L273.25,343.86 L274.00,343.93 L274.75,343.97 L275.50,343.84 L276.25,343.80 L277.00,343.82 L277.75,343.79 L278.50,343.82 L279.25,343.82 L280.00,343.75 L280.75,343.75 L281.50,343.69 L282.25,343.78 L283.00,343.73 L283.75,343.77 L284.50,343.73 L285.25,343.71 L286.00,343.71 L286.75,343.76 L287.50,343.82 L288.25,343.85 L289.00,343.76 L289.75,343.66 L290.50,343.69 L291.25,343.77 L292.00,343.84 L292.75,343.72 L293.50,343.73 L294.25,343.75 L295.00,343.78 L295.75,343.69 L296.50,343.69 L297.25,343.65 L298.00,343.71 L298.75,343.62 L299.50,343.67 L300.25,343.63 L301.00,343.61 L301.75,343.54 L302.50,343.47 L303.25,343.48 L304.00,343.49 L304.75,343.45 L305.50,343.35 L306.25,343.31 L307.00,343.33 L307.75,343.43 L308.50,343.37 L309.25,343.40 L310.00,343.36 L310.75,343.38 L311.50,343.49 L312.25,343.53 L313.00,343.65 L313.75,343.57 L314.50,343.57 L315.25,343.59 L316.00,343.54 L316.75,343.46 L317.50,343.43 L318.25,343.49 L319.00,343.53 L319.75,343.51 L320.50,343.56 L321.25,343.62 L322.00,343.67 L322.75,343.58 L323.50,343.63 L324.25,343.55 L325.00,343.66 L325.75,343.65 L326.50,343.80 L327.25,343.64 L328.00,343.64 L328.75,343.56 L329.50,343.65 L330.25,343.65 L331.00,343.62 L331.75,343.54 L332.50,343.48 L333.25,343.52 L334.00,343.60 L334.75,343.66 L335.50,343.62 L336.25,343.67 L337.00,343.67 L337.75,343.75 L338.50,343.67 L339.25,343.68 L340.00,343.56 L340.75,343.57 L341.50,343.59 L342.25,343.56 L343.00,343.64 L343.75,343.45 L344.50,343.44 L345.25,343.27 L346.00,343.30 L346.75,343.31 L347.50,343.36 L348.25,343.45 L349.00,343.48 L349.75,343.56 L350.50,343.49 L351.25,343.48 L352.00,343.36 L352.75,343.37 L353.50,343.41 L354.25,343.39 L355.00,343.36 L355.75,343.29 L356.50,343.26 L357.25,343.17 L358.00,343.06 L358.75,343.07 L359.50,343.06 L360.25,343.14 L361.00,343.09 L361.75,343.09 L362.50,342.96 L363.25,342.85 L364.00,342.73 L364.75,342.64 L365.50,342.56 L366.25,342.55 L367.00,342.44 L367.75,342.38 L368.50,342.19 L369.25,342.11 L370.00,341.87 L370.75,341.81 L371.50,341.64 L372.25,341.53 L373.00,341.37 L373.75,341.26 L374.50,341.09 L375.25,340.88 L376.00,340.70 L376.75,340.64 L377.50,340.55 L378.25,340.48 L379.00,340.23 L379.75,340.05 L380.50,339.78 L381.25,339.61 L382.00,339.39 L382.75,339.22 L383.50,339.02 L384.25,338.91 L385.00,338.64 L385.75,338.46 L386.50,338.17 L387.25,337.98 L388.00,337.73 L388.75,337.54 L389.50,337.35 L390.25,337.22 L391.00,337.01 L391.75,336.82 L392.50,336.67 L393.25,336.58 L394.00,336.54 L394.75,336.40 L395.50,336.28 L396.25,336.25 L397.00,336.30 L397.75,336.43 L398.50,336.60 L399.25,336.82 L400.00,336.95 L400.75,337.07 L401.50,337.27 L402.25,337.38 L403.00,337.58 L403.75,337.80 L404.50,338.20 L405.25,338.46 L406.00,338.64 L406.75,338.86 L407.50,339.12 L408.25,339.38 L409.00,339.58 L409.75,339.78 L410.50,340.07 L411.25,340.30 L412.00,340.63 L412.75,340.80 L413.50,341.00 L414.25,341.07 L415.00,341.31 L415.75,341.50 L416.50,341.78 L417.25,341.92 L418.00,342.11 L418.75,342.30 L419.50,342.46 L420.25,342.57 L421.00,342.59 L421.75,342.67 L422.50,342.66 L423.25,342.82 L424.00,342.96 L424.75,343.12 L425.50,343.17 L426.25,343.08 L427.00,343.17 L427.75,343.17 L428.50,343.33 L429.25,343.36 L430.00,343.40 L430.75,343.45 L431.50,343.39 L432.25,343.43 L433.00,343.41 L433.75,343.52 L434.50,343.56 L435.25,343.58 L436.00,343.62 L436.75,343.67 L437.50,343.77 L438.25,343.77 L439.00,343.78 L439.75,343.84 L440.50,343.84 L441.25,343.89 L442.00,343.79 L442.75,343.86 L443.50,343.86 L444.25,343.91 L445.00,343.83 L445.75,343.82 L446.50,343.76 L447.25,343.78 L448.00,343.82 L448.75,343.95 L449.50,344.00 L450.25,343.95 L451.00,343.91 L451.75,343.95 L452.50,343.96 L453.25,343.97 L454.00,343.97 L454.75,343.98 L455.50,343.99 L456.25,344.02 L457.00,344.04 L457.75,344.02 L458.50,343.99 L459.25,344.05 L460.00,344.05 L460.75,343.97 L461.50,343.93 L462.25,343.95 L463.00,344.03 L463.75,344.02 L464.50,344.09 L465.25,344.07 L466.00,344.07 L466.75,344.04 L467.50,344.03 L468.25,344.04 L469.00,343.96 L469.75,343.98 L470.50,344.04 L471.25,344.13 L472.00,344.14 L472.75,344.06 L473.50,343.98 L474.25,344.00 L475.00,344.02 L475.75,344.05 L476.50,344.01 L477.25,344.02 L478.00,344.08 L478.75,344.02 L479.50,343.98 L480.25,343.99 L481.00,344.03 L481.75,344.11 L482.50,344.05 L483.25,344.02 L484.00,344.05 L484.75,344.08 L485.50,344.13 L486.25,343.96 L487.00,343.92 L487.75,343.88 L488.50,343.97 L489.25,343.99 L490.00,343.99 L490.75,343.98 L491.50,343.96 L492.25,343.99 L493.00,344.05 L493.75,344.06 L494.50,344.05 L495.25,344.06 L496.00,344.11 L496.75,344.14 L497.50,344.02 L498.25,343.96 L499.00,343.87 L499.75,344.02 L500.50,344.02 L501.25,344.03 L502.00,343.96 L502.75,343.95 L503.50,344.05 L504.25,344.02 L505.00,344.04 L505.75,344.06 L506.50,344.03 L507.25,344.02 L508.00,343.95 L508.75,344.06 L509.50,344.03 L510.25,344.07 L511.00,343.97 L511.75,344.05 L512.50,343.97 L513.25,344.02 L514.00,343.97 L514.75,344.04 L515.50,344.09 L516.25,344.10 L517.00,344.03 L517.75,343.91 L518.50,343.92 L519.25,343.92 L520.00,343.97 L520.75,344.00 L521.50,344.06 L522.25,344.05 L523.00,343.96 L523.75,344.04 L524.50,344.05" stroke="#1818b0"/>
</g>
<g stroke="#383838" stroke-width="1.15" fill="none" stroke-linecap="butt">
<path d="M51.5,5 V350.7"/><path d="M50.9,350.1 H525.6" stroke-width="1.3"/>
<path d="M44.5,344.00 H51.5"/>
<path d="M48,299.48 H51.5"/>
<path d="M44.5,254.95 H51.5"/>
<path d="M48,210.43 H51.5"/>
<path d="M44.5,165.90 H51.5"/>
<path d="M48,121.38 H51.5"/>
<path d="M44.5,76.85 H51.5"/>
<path d="M48,32.32 H51.5"/>
<path d="M51.60,350 V357"/>
<path d="M110.77,350 V354"/>
<path d="M169.94,350 V357"/>
<path d="M229.11,350 V354"/>
<path d="M288.28,350 V357"/>
<path d="M347.45,350 V354"/>
<path d="M406.62,350 V357"/>
<path d="M465.79,350 V354"/>
<path d="M524.96,350 V357"/>
</g>
<g font-family="'Liberation Sans', Arial, sans-serif" fill="#0c0c0c" stroke="#0c0c0c" stroke-width="0.4" font-size="17.2px">
<text x="39.3" y="82.2" text-anchor="end">0.09</text>
<text x="39.3" y="171.2" text-anchor="end">0.06</text>
<text x="39.3" y="260.2" text-anchor="end">0.03</text>
<text x="39.3" y="349.3" text-anchor="end">0.00</text>
<text x="51.0" y="374.6" text-anchor="middle">2400</text>
<text x="169.3" y="374.6" text-anchor="middle">2300</text>
<text x="287.7" y="374.6" text-anchor="middle">2200</text>
<text x="406.0" y="374.6" text-anchor="middle">2100</text>
<text x="524.4" y="374.6" text-anchor="middle">2000</text>
<text x="12" y="216.6" font-size="18.5px" font-style="italic">A</text>
<text x="99.8" y="307.2" font-size="16px">CO<tspan font-size="10px" dy="7" dx="1.2">2</tspan></text>
<text transform="translate(256.3,400.7)" font-size="16.5px" font-style="italic">ν</text>
<text transform="translate(267.7,400.7) scale(1.12,1)" font-size="17.2px">(cm</text>
<text transform="translate(299.3,391.4) scale(1.04,1)" font-size="10.6px">−1</text>
<text transform="translate(311.8,400.7) scale(1.12,1)" font-size="17.2px">)</text>
</g>
<g stroke="#666" stroke-width="1" fill="none">
<path d="M111.5,11.5 V180 M111,178.5 H340.5"/>
<path d="M108.5,21.50 H111.5"/>
<path d="M109.7,39.50 H111.5"/>
<path d="M108.5,58.50 H111.5"/>
<path d="M109.7,76.50 H111.5"/>
<path d="M108.5,95.50 H111.5"/>
<path d="M109.7,113.50 H111.5"/>
<path d="M108.5,132.50 H111.5"/>
<path d="M109.7,150.50 H111.5"/>
<path d="M108.5,169.50 H111.5"/>
<path d="M112.50,178.5 V180.7"/>
<path d="M134.50,178.5 V182.3"/>
<path d="M157.50,178.5 V180.7"/>
<path d="M180.50,178.5 V182.3"/>
<path d="M203.50,178.5 V180.7"/>
<path d="M226.50,178.5 V182.3"/>
<path d="M248.50,178.5 V180.7"/>
<path d="M271.50,178.5 V182.3"/>
<path d="M294.50,178.5 V180.7"/>
<path d="M316.50,178.5 V182.3"/>
<path d="M339.50,178.5 V180.7"/>
</g>
<path d="M117,12.5 L331.6,176.5" stroke="#333" stroke-width="1" fill="none"/>
<rect x="133.0" y="26.9" width="3.2" height="3.2" fill="#111"/>
<rect x="148.1" y="36.2" width="3.2" height="3.2" fill="#111"/>
<rect x="163.8" y="47.3" width="3.2" height="3.2" fill="#111"/>
<rect x="179.2" y="58.9" width="3.2" height="3.2" fill="#111"/>
<rect x="195.5" y="71.7" width="3.2" height="3.2" fill="#111"/>
<rect x="211.2" y="83.6" width="3.2" height="3.2" fill="#111"/>
<rect x="226.8" y="96.2" width="3.2" height="3.2" fill="#111"/>
<rect x="242.2" y="107.7" width="3.2" height="3.2" fill="#111"/>
<rect x="258.8" y="122.2" width="3.2" height="3.2" fill="#111"/>
<rect x="291.2" y="147.7" width="3.2" height="3.2" fill="#111"/>
<rect x="312.3" y="159.7" width="3.2" height="3.2" fill="#111"/>
<g font-family="'Liberation Sans', Arial, sans-serif" fill="#111" stroke="#111" stroke-width="0.3" font-size="15px">
<text x="105.2" y="26.6" text-anchor="end">1</text>
<text x="105.2" y="63.6" text-anchor="end">0</text>
<text x="105.2" y="100.6" text-anchor="end">-1</text>
<text x="105.2" y="137.6" text-anchor="end">-2</text>
<text x="105.2" y="174.6" text-anchor="end">-3</text>
<text x="135.0" y="195.7" text-anchor="middle">0</text>
<text x="180.5" y="195.7" text-anchor="middle">100</text>
<text x="226.0" y="195.7" text-anchor="middle">200</text>
<text x="271.5" y="195.7" text-anchor="middle">300</text>
<text x="317.0" y="195.7" text-anchor="middle">400</text>
<text x="220.3" y="213.6" font-size="15.6px" text-anchor="middle">t (s)</text>
<text transform="translate(88.3,111.8) rotate(-90)" font-size="15px" text-anchor="middle">ln(A)</text>
</g>
</svg></body></html>
